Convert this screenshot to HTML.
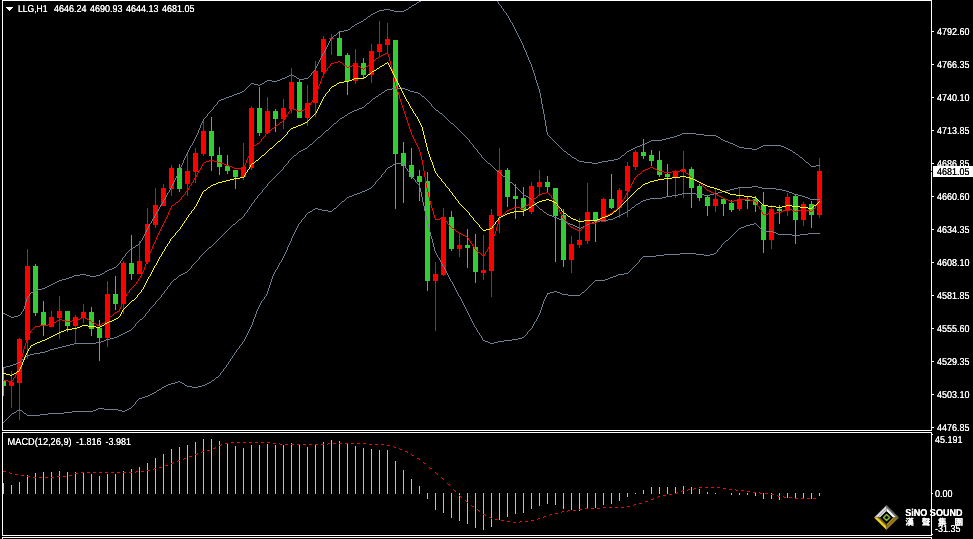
<!DOCTYPE html>
<html lang="en"><head><meta charset="utf-8"><title>LLG,H1</title>
<style>html,body{margin:0;padding:0;background:#000;overflow:hidden}svg{display:block}text{font-family:"Liberation Sans","Noto Sans CJK TC",sans-serif;font-size:10px;fill:#fff;text-rendering:geometricPrecision}.ln{fill:none;stroke-width:1;shape-rendering:crispEdges}</style></head><body>
<svg width="973" height="539" viewBox="0 0 973 539">
<rect width="973" height="539" fill="#000"/>
<defs><clipPath id="cm"><rect x="3" y="1" width="928" height="429"/></clipPath><clipPath id="cs"><rect x="3" y="433" width="928" height="102"/></clipPath></defs>
<g clip-path="url(#cm)" shape-rendering="crispEdges">
<rect x="3" y="368" width="1" height="28" fill="#32cd32"/><rect x="1" y="380" width="5" height="6" fill="#32cd32"/>
<rect x="11" y="371" width="1" height="37" fill="#ff0000"/><rect x="9" y="382" width="5" height="4" fill="#ff0000"/>
<rect x="19" y="338" width="1" height="82" fill="#ff0000"/><rect x="17" y="339" width="5" height="44" fill="#ff0000"/>
<rect x="27" y="249" width="1" height="110" fill="#ff0000"/><rect x="25" y="266" width="5" height="74" fill="#ff0000"/>
<rect x="35" y="264" width="1" height="52" fill="#32cd32"/><rect x="33" y="266" width="5" height="47" fill="#32cd32"/>
<rect x="43" y="301" width="1" height="35" fill="#32cd32"/><rect x="41" y="312" width="5" height="14" fill="#32cd32"/>
<rect x="51" y="311" width="1" height="16" fill="#ff0000"/><rect x="49" y="317" width="5" height="10" fill="#ff0000"/>
<rect x="59" y="296" width="1" height="43" fill="#ff0000"/><rect x="57" y="311" width="5" height="7" fill="#ff0000"/>
<rect x="67" y="311" width="1" height="21" fill="#32cd32"/><rect x="65" y="311" width="5" height="15" fill="#32cd32"/>
<rect x="75" y="315" width="1" height="28" fill="#ff0000"/><rect x="73" y="317" width="5" height="9" fill="#ff0000"/>
<rect x="83" y="304" width="1" height="19" fill="#ff0000"/><rect x="81" y="312" width="5" height="6" fill="#ff0000"/>
<rect x="91" y="307" width="1" height="29" fill="#32cd32"/><rect x="89" y="312" width="5" height="17" fill="#32cd32"/>
<rect x="99" y="320" width="1" height="41" fill="#32cd32"/><rect x="97" y="328" width="5" height="10" fill="#32cd32"/>
<rect x="107" y="281" width="1" height="66" fill="#ff0000"/><rect x="105" y="294" width="5" height="44" fill="#ff0000"/>
<rect x="115" y="276" width="1" height="34" fill="#32cd32"/><rect x="113" y="294" width="5" height="10" fill="#32cd32"/>
<rect x="123" y="261" width="1" height="53" fill="#ff0000"/><rect x="121" y="263" width="5" height="41" fill="#ff0000"/>
<rect x="131" y="235" width="1" height="45" fill="#32cd32"/><rect x="129" y="263" width="5" height="11" fill="#32cd32"/>
<rect x="139" y="241" width="1" height="33" fill="#ff0000"/><rect x="137" y="261" width="5" height="13" fill="#ff0000"/>
<rect x="147" y="208" width="1" height="56" fill="#ff0000"/><rect x="145" y="224" width="5" height="38" fill="#ff0000"/>
<rect x="155" y="188" width="1" height="40" fill="#ff0000"/><rect x="153" y="205" width="5" height="20" fill="#ff0000"/>
<rect x="163" y="184" width="1" height="22" fill="#ff0000"/><rect x="161" y="188" width="5" height="18" fill="#ff0000"/>
<rect x="171" y="165" width="1" height="31" fill="#ff0000"/><rect x="169" y="168" width="5" height="21" fill="#ff0000"/>
<rect x="179" y="164" width="1" height="28" fill="#32cd32"/><rect x="177" y="168" width="5" height="21" fill="#32cd32"/>
<rect x="187" y="152" width="1" height="44" fill="#ff0000"/><rect x="185" y="171" width="5" height="13" fill="#ff0000"/>
<rect x="195" y="148" width="1" height="35" fill="#ff0000"/><rect x="193" y="153" width="5" height="19" fill="#ff0000"/>
<rect x="203" y="119" width="1" height="37" fill="#ff0000"/><rect x="201" y="131" width="5" height="23" fill="#ff0000"/>
<rect x="211" y="117" width="1" height="54" fill="#32cd32"/><rect x="209" y="131" width="5" height="25" fill="#32cd32"/>
<rect x="219" y="147" width="1" height="28" fill="#32cd32"/><rect x="217" y="155" width="5" height="12" fill="#32cd32"/>
<rect x="227" y="155" width="1" height="19" fill="#32cd32"/><rect x="225" y="166" width="5" height="5" fill="#32cd32"/>
<rect x="235" y="170" width="1" height="19" fill="#32cd32"/><rect x="233" y="170" width="5" height="7" fill="#32cd32"/>
<rect x="243" y="143" width="1" height="37" fill="#ff0000"/><rect x="241" y="167" width="5" height="10" fill="#ff0000"/>
<rect x="251" y="106" width="1" height="64" fill="#ff0000"/><rect x="249" y="108" width="5" height="60" fill="#ff0000"/>
<rect x="259" y="87" width="1" height="49" fill="#32cd32"/><rect x="257" y="108" width="5" height="25" fill="#32cd32"/>
<rect x="267" y="97" width="1" height="37" fill="#ff0000"/><rect x="265" y="111" width="5" height="22" fill="#ff0000"/>
<rect x="275" y="109" width="1" height="23" fill="#32cd32"/><rect x="273" y="111" width="5" height="8" fill="#32cd32"/>
<rect x="283" y="99" width="1" height="30" fill="#ff0000"/><rect x="281" y="108" width="5" height="11" fill="#ff0000"/>
<rect x="291" y="68" width="1" height="45" fill="#ff0000"/><rect x="289" y="82" width="5" height="27" fill="#ff0000"/>
<rect x="299" y="80" width="1" height="38" fill="#32cd32"/><rect x="297" y="82" width="5" height="36" fill="#32cd32"/>
<rect x="307" y="85" width="1" height="41" fill="#ff0000"/><rect x="305" y="103" width="5" height="15" fill="#ff0000"/>
<rect x="315" y="61" width="1" height="56" fill="#ff0000"/><rect x="313" y="71" width="5" height="32" fill="#ff0000"/>
<rect x="323" y="36" width="1" height="39" fill="#ff0000"/><rect x="321" y="39" width="5" height="33" fill="#ff0000"/>
<rect x="331" y="34" width="1" height="21" fill="#ff0000"/><rect x="329" y="38" width="5" height="1" fill="#ff0000"/>
<rect x="339" y="31" width="1" height="25" fill="#32cd32"/><rect x="337" y="38" width="5" height="18" fill="#32cd32"/>
<rect x="347" y="53" width="1" height="42" fill="#32cd32"/><rect x="345" y="55" width="5" height="26" fill="#32cd32"/>
<rect x="355" y="49" width="1" height="35" fill="#ff0000"/><rect x="353" y="63" width="5" height="18" fill="#ff0000"/>
<rect x="363" y="58" width="1" height="21" fill="#32cd32"/><rect x="361" y="63" width="5" height="12" fill="#32cd32"/>
<rect x="371" y="44" width="1" height="39" fill="#ff0000"/><rect x="369" y="51" width="5" height="24" fill="#ff0000"/>
<rect x="379" y="21" width="1" height="35" fill="#ff0000"/><rect x="377" y="44" width="5" height="8" fill="#ff0000"/>
<rect x="387" y="23" width="1" height="29" fill="#ff0000"/><rect x="385" y="39" width="5" height="6" fill="#ff0000"/>
<rect x="395" y="40" width="1" height="169" fill="#32cd32"/><rect x="393" y="40" width="5" height="114" fill="#32cd32"/>
<rect x="403" y="142" width="1" height="61" fill="#32cd32"/><rect x="401" y="153" width="5" height="13" fill="#32cd32"/>
<rect x="411" y="148" width="1" height="31" fill="#32cd32"/><rect x="409" y="165" width="5" height="12" fill="#32cd32"/>
<rect x="419" y="170" width="1" height="31" fill="#32cd32"/><rect x="417" y="176" width="5" height="6" fill="#32cd32"/>
<rect x="427" y="172" width="1" height="119" fill="#32cd32"/><rect x="425" y="181" width="5" height="100" fill="#32cd32"/>
<rect x="435" y="262" width="1" height="69" fill="#ff0000"/><rect x="433" y="274" width="5" height="7" fill="#ff0000"/>
<rect x="443" y="208" width="1" height="68" fill="#ff0000"/><rect x="441" y="217" width="5" height="58" fill="#ff0000"/>
<rect x="451" y="211" width="1" height="40" fill="#32cd32"/><rect x="449" y="217" width="5" height="32" fill="#32cd32"/>
<rect x="459" y="233" width="1" height="24" fill="#ff0000"/><rect x="457" y="245" width="5" height="4" fill="#ff0000"/>
<rect x="467" y="229" width="1" height="39" fill="#32cd32"/><rect x="465" y="245" width="5" height="3" fill="#32cd32"/>
<rect x="475" y="234" width="1" height="49" fill="#32cd32"/><rect x="473" y="247" width="5" height="25" fill="#32cd32"/>
<rect x="483" y="235" width="1" height="45" fill="#ff0000"/><rect x="481" y="270" width="5" height="3" fill="#ff0000"/>
<rect x="491" y="209" width="1" height="88" fill="#ff0000"/><rect x="489" y="215" width="5" height="56" fill="#ff0000"/>
<rect x="499" y="148" width="1" height="85" fill="#ff0000"/><rect x="497" y="170" width="5" height="46" fill="#ff0000"/>
<rect x="507" y="168" width="1" height="39" fill="#32cd32"/><rect x="505" y="170" width="5" height="27" fill="#32cd32"/>
<rect x="515" y="184" width="1" height="35" fill="#32cd32"/><rect x="513" y="196" width="5" height="3" fill="#32cd32"/>
<rect x="523" y="187" width="1" height="29" fill="#32cd32"/><rect x="521" y="198" width="5" height="12" fill="#32cd32"/>
<rect x="531" y="182" width="1" height="32" fill="#ff0000"/><rect x="529" y="186" width="5" height="26" fill="#ff0000"/>
<rect x="539" y="170" width="1" height="26" fill="#ff0000"/><rect x="537" y="182" width="5" height="5" fill="#ff0000"/>
<rect x="547" y="176" width="1" height="16" fill="#32cd32"/><rect x="545" y="182" width="5" height="5" fill="#32cd32"/>
<rect x="555" y="188" width="1" height="74" fill="#32cd32"/><rect x="553" y="188" width="5" height="28" fill="#32cd32"/>
<rect x="563" y="209" width="1" height="58" fill="#32cd32"/><rect x="561" y="215" width="5" height="45" fill="#32cd32"/>
<rect x="571" y="236" width="1" height="37" fill="#ff0000"/><rect x="569" y="244" width="5" height="16" fill="#ff0000"/>
<rect x="579" y="218" width="1" height="30" fill="#ff0000"/><rect x="577" y="240" width="5" height="5" fill="#ff0000"/>
<rect x="587" y="183" width="1" height="61" fill="#ff0000"/><rect x="585" y="212" width="5" height="29" fill="#ff0000"/>
<rect x="595" y="212" width="1" height="30" fill="#32cd32"/><rect x="593" y="212" width="5" height="9" fill="#32cd32"/>
<rect x="603" y="198" width="1" height="24" fill="#ff0000"/><rect x="601" y="199" width="5" height="23" fill="#ff0000"/>
<rect x="611" y="174" width="1" height="35" fill="#32cd32"/><rect x="609" y="199" width="5" height="9" fill="#32cd32"/>
<rect x="619" y="188" width="1" height="30" fill="#ff0000"/><rect x="617" y="190" width="5" height="18" fill="#ff0000"/>
<rect x="627" y="162" width="1" height="55" fill="#ff0000"/><rect x="625" y="166" width="5" height="25" fill="#ff0000"/>
<rect x="635" y="150" width="1" height="20" fill="#ff0000"/><rect x="633" y="152" width="5" height="15" fill="#ff0000"/>
<rect x="643" y="139" width="1" height="20" fill="#32cd32"/><rect x="641" y="152" width="5" height="4" fill="#32cd32"/>
<rect x="651" y="150" width="1" height="16" fill="#32cd32"/><rect x="649" y="155" width="5" height="6" fill="#32cd32"/>
<rect x="659" y="151" width="1" height="26" fill="#32cd32"/><rect x="657" y="160" width="5" height="15" fill="#32cd32"/>
<rect x="667" y="164" width="1" height="33" fill="#32cd32"/><rect x="665" y="174" width="5" height="3" fill="#32cd32"/>
<rect x="675" y="170" width="1" height="28" fill="#ff0000"/><rect x="673" y="171" width="5" height="6" fill="#ff0000"/>
<rect x="683" y="151" width="1" height="47" fill="#ff0000"/><rect x="681" y="169" width="5" height="3" fill="#ff0000"/>
<rect x="691" y="167" width="1" height="41" fill="#32cd32"/><rect x="689" y="169" width="5" height="19" fill="#32cd32"/>
<rect x="699" y="184" width="1" height="17" fill="#32cd32"/><rect x="697" y="186" width="5" height="12" fill="#32cd32"/>
<rect x="707" y="196" width="1" height="20" fill="#32cd32"/><rect x="705" y="197" width="5" height="9" fill="#32cd32"/>
<rect x="715" y="189" width="1" height="23" fill="#ff0000"/><rect x="713" y="199" width="5" height="7" fill="#ff0000"/>
<rect x="723" y="198" width="1" height="18" fill="#32cd32"/><rect x="721" y="199" width="5" height="5" fill="#32cd32"/>
<rect x="731" y="200" width="1" height="12" fill="#32cd32"/><rect x="729" y="203" width="5" height="7" fill="#32cd32"/>
<rect x="739" y="187" width="1" height="24" fill="#ff0000"/><rect x="737" y="199" width="5" height="10" fill="#ff0000"/>
<rect x="747" y="196" width="1" height="13" fill="#32cd32"/><rect x="745" y="200" width="5" height="1" fill="#32cd32"/>
<rect x="755" y="196" width="1" height="16" fill="#32cd32"/><rect x="753" y="199" width="5" height="6" fill="#32cd32"/>
<rect x="763" y="192" width="1" height="61" fill="#32cd32"/><rect x="761" y="205" width="5" height="35" fill="#32cd32"/>
<rect x="771" y="205" width="1" height="44" fill="#ff0000"/><rect x="769" y="209" width="5" height="31" fill="#ff0000"/>
<rect x="779" y="205" width="1" height="19" fill="#32cd32"/><rect x="777" y="209" width="5" height="2" fill="#32cd32"/>
<rect x="787" y="193" width="1" height="23" fill="#ff0000"/><rect x="785" y="197" width="5" height="14" fill="#ff0000"/>
<rect x="795" y="194" width="1" height="50" fill="#32cd32"/><rect x="793" y="196" width="5" height="24" fill="#32cd32"/>
<rect x="803" y="202" width="1" height="24" fill="#ff0000"/><rect x="801" y="204" width="5" height="16" fill="#ff0000"/>
<rect x="811" y="201" width="1" height="27" fill="#32cd32"/><rect x="809" y="204" width="5" height="11" fill="#32cd32"/>
<rect x="819" y="158" width="1" height="60" fill="#ff0000"/><rect x="817" y="171" width="5" height="44" fill="#ff0000"/>
</g>
<g clip-path="url(#cm)">
<path d="M421 0h1v1h-1zM419 1h2v1h-2zM417 2h2v1h-2zM416 3h1v1h-1zM414 4h2v1h-2zM412 5h2v1h-2zM411 6h1v1h-1zM409 7h2v1h-2zM408 8h1v1h-1zM384 9h6v1h-6zM406 9h2v1h-2zM379 10h5v1h-5zM390 10h4v1h-4zM404 10h2v1h-2zM377 11h2v1h-2zM394 11h10v1h-10zM375 12h2v1h-2zM373 13h2v1h-2zM371 14h2v1h-2zM370 15h1v1h-1zM368 16h2v1h-2zM367 17h1v1h-1zM366 18h1v1h-1zM364 19h2v1h-2zM363 20h1v1h-1zM361 21h2v1h-2zM359 22h2v1h-2zM357 23h2v1h-2zM355 24h2v1h-2zM354 25h1v1h-1zM352 26h2v1h-2zM351 27h1v1h-1zM350 28h1v1h-1zM348 29h2v1h-2zM344 30h4v1h-4zM339 31h5v1h-5zM338 32h1v1h-1zM337 33h1v1h-1zM336 34h1v1h-1zM334 35h2v1h-2zM333 36h1v1h-1zM332 37h1v1h-1zM331 38h1v1h-1zM330 39h1v2h-1zM329 41h1v2h-1zM328 43h1v2h-1zM327 45h1v2h-1zM326 47h1v2h-1zM325 49h1v2h-1zM324 51h1v2h-1zM323 53h1v1h-1zM322 54h1v2h-1zM321 56h1v2h-1zM320 58h1v2h-1zM319 60h1v2h-1zM318 62h1v2h-1zM317 64h1v2h-1zM316 66h1v2h-1zM315 68h1v2h-1zM314 70h1v1h-1zM313 71h1v1h-1zM312 72h1v1h-1zM311 73h1v2h-1zM291 74h1v1h-1zM289 75h2v1h-2zM292 75h2v1h-2zM310 75h1v1h-1zM287 76h2v1h-2zM294 76h2v1h-2zM309 76h1v1h-1zM285 77h2v1h-2zM296 77h1v1h-1zM308 77h1v1h-1zM282 78h3v1h-3zM297 78h2v1h-2zM304 78h4v1h-4zM280 79h2v1h-2zM299 79h5v1h-5zM267 80h5v1h-5zM277 80h3v1h-3zM265 81h2v1h-2zM272 81h5v1h-5zM264 82h1v1h-1zM251 83h3v1h-3zM262 83h2v1h-2zM250 84h1v1h-1zM254 84h4v1h-4zM260 84h2v1h-2zM249 85h1v1h-1zM258 85h2v1h-2zM248 86h1v1h-1zM247 87h1v1h-1zM246 88h1v1h-1zM245 89h1v1h-1zM244 90h1v1h-1zM242 91h2v1h-2zM240 92h2v1h-2zM237 93h3v1h-3zM234 94h3v1h-3zM232 95h2v1h-2zM229 96h3v1h-3zM226 97h3v1h-3zM224 98h2v1h-2zM221 99h3v1h-3zM219 100h2v1h-2zM218 101h1v1h-1zM217 102h1v2h-1zM216 104h1v1h-1zM215 105h1v1h-1zM214 106h1v1h-1zM213 107h1v2h-1zM212 109h1v1h-1zM211 110h1v1h-1zM210 111h1v1h-1zM209 112h1v1h-1zM208 113h1v1h-1zM207 114h1v2h-1zM206 116h1v1h-1zM205 117h1v1h-1zM204 118h1v1h-1zM203 119h1v2h-1zM202 121h1v2h-1zM201 123h1v2h-1zM200 125h1v3h-1zM199 128h1v2h-1zM198 130h1v3h-1zM197 133h1v2h-1zM196 135h1v2h-1zM195 137h1v2h-1zM194 139h1v2h-1zM193 141h1v2h-1zM192 143h1v2h-1zM191 145h1v1h-1zM190 146h1v2h-1zM189 148h1v2h-1zM188 150h1v2h-1zM187 152h1v2h-1zM186 154h1v2h-1zM185 156h1v2h-1zM184 158h1v2h-1zM183 160h1v3h-1zM182 163h1v2h-1zM181 165h1v2h-1zM180 167h1v2h-1zM179 169h1v3h-1zM178 172h1v2h-1zM177 174h1v2h-1zM176 176h1v2h-1zM175 178h1v2h-1zM174 180h1v2h-1zM173 182h1v2h-1zM172 184h1v2h-1zM171 186h1v2h-1zM170 188h1v2h-1zM169 190h1v2h-1zM168 192h1v1h-1zM167 193h1v2h-1zM166 195h1v2h-1zM165 197h1v2h-1zM164 199h1v1h-1zM163 200h1v2h-1zM162 202h1v2h-1zM161 204h1v1h-1zM160 205h1v2h-1zM159 207h1v2h-1zM158 209h1v2h-1zM157 211h1v1h-1zM156 212h1v2h-1zM155 214h1v2h-1zM154 216h1v2h-1zM153 218h1v1h-1zM152 219h1v2h-1zM151 221h1v2h-1zM150 223h1v1h-1zM149 224h1v2h-1zM148 226h1v2h-1zM147 228h1v2h-1zM146 230h1v2h-1zM145 232h1v2h-1zM144 234h1v2h-1zM143 236h1v2h-1zM142 238h1v2h-1zM141 240h1v1h-1zM140 241h1v2h-1zM139 243h1v1h-1zM138 244h1v1h-1zM136 245h2v1h-2zM135 246h1v1h-1zM133 247h2v1h-2zM131 248h2v1h-2zM130 249h1v1h-1zM129 250h1v1h-1zM128 251h1v1h-1zM127 252h1v1h-1zM126 253h1v1h-1zM125 254h1v2h-1zM124 256h1v1h-1zM123 257h1v1h-1zM122 258h1v2h-1zM121 260h1v1h-1zM120 261h1v2h-1zM119 263h1v1h-1zM118 264h1v1h-1zM117 265h1v1h-1zM116 266h1v1h-1zM114 267h2v1h-2zM112 268h2v1h-2zM109 269h3v1h-3zM107 270h2v1h-2zM105 271h2v1h-2zM104 272h1v1h-1zM102 273h2v1h-2zM80 274h6v1h-6zM100 274h2v1h-2zM74 275h6v1h-6zM86 275h4v1h-4zM96 275h4v1h-4zM72 276h2v1h-2zM90 276h6v1h-6zM69 277h3v1h-3zM66 278h3v1h-3zM62 279h4v1h-4zM59 280h3v1h-3zM57 281h2v1h-2zM55 282h2v1h-2zM53 283h2v1h-2zM51 284h2v1h-2zM49 285h2v1h-2zM47 286h2v1h-2zM45 287h2v1h-2zM42 288h3v1h-3zM38 289h4v1h-4zM35 290h3v1h-3zM33 291h2v1h-2zM31 292h2v1h-2zM30 293h1v1h-1zM29 294h1v2h-1zM28 296h1v1h-1zM27 297h1v2h-1zM26 299h1v3h-1zM25 302h1v4h-1zM24 306h1v3h-1zM23 309h1v2h-1zM22 311h1v1h-1zM21 312h1v2h-1zM3 313h2v1h-2zM5 314h2v1h-2zM20 314h1v1h-1zM7 315h2v1h-2zM18 315h2v1h-2zM9 316h2v1h-2zM14 316h4v1h-4zM11 317h3v1h-3z" fill="#708090" shape-rendering="crispEdges"/>
<path d="M496 0h1v1h-1zM497 1h1v1h-1zM498 2h1v2h-1zM499 4h1v1h-1zM500 5h1v1h-1zM501 6h1v2h-1zM502 8h1v1h-1zM503 9h1v2h-1zM504 11h1v1h-1zM505 12h1v1h-1zM506 13h1v2h-1zM507 15h1v1h-1zM508 16h1v2h-1zM509 18h1v2h-1zM510 20h1v2h-1zM511 22h1v1h-1zM512 23h1v2h-1zM513 25h1v2h-1zM514 27h1v2h-1zM515 29h1v2h-1zM516 31h1v2h-1zM517 33h1v2h-1zM518 35h1v2h-1zM519 37h1v2h-1zM520 39h1v2h-1zM521 41h1v2h-1zM522 43h1v2h-1zM523 45h1v3h-1zM524 48h1v2h-1zM525 50h1v2h-1zM526 52h1v3h-1zM527 55h1v2h-1zM528 57h1v3h-1zM529 60h1v2h-1zM530 62h1v2h-1zM531 64h1v3h-1zM532 67h1v3h-1zM533 70h1v3h-1zM534 73h1v3h-1zM535 76h1v4h-1zM536 80h1v3h-1zM537 83h1v3h-1zM538 86h1v3h-1zM539 89h1v4h-1zM540 93h1v5h-1zM541 98h1v6h-1zM542 104h1v5h-1zM543 109h1v5h-1zM544 114h1v6h-1zM545 120h1v6h-1zM546 126h1v6h-1zM547 132h1v3h-1zM682 133h14v1h-14zM680 134h2v1h-2zM696 134h8v1h-8zM548 135h1v1h-1zM677 135h3v1h-3zM704 135h12v1h-12zM549 136h1v1h-1zM674 136h3v1h-3zM716 136h2v1h-2zM550 137h1v1h-1zM670 137h4v1h-4zM718 137h2v1h-2zM551 138h1v1h-1zM666 138h4v1h-4zM720 138h1v1h-1zM552 139h1v1h-1zM662 139h4v1h-4zM721 139h2v1h-2zM553 140h1v1h-1zM651 140h11v1h-11zM723 140h2v1h-2zM554 141h1v1h-1zM649 141h2v1h-2zM725 141h3v1h-3zM555 142h1v1h-1zM647 142h2v1h-2zM728 142h2v1h-2zM556 143h1v1h-1zM645 143h2v1h-2zM730 143h3v1h-3zM557 144h1v1h-1zM642 144h3v1h-3zM733 144h2v1h-2zM558 145h1v1h-1zM640 145h2v1h-2zM735 145h2v1h-2zM763 145h18v1h-18zM559 146h1v1h-1zM637 146h3v1h-3zM737 146h2v1h-2zM761 146h2v1h-2zM781 146h3v1h-3zM560 147h1v1h-1zM635 147h2v1h-2zM739 147h5v1h-5zM759 147h2v1h-2zM784 147h2v1h-2zM561 148h1v1h-1zM633 148h2v1h-2zM744 148h8v1h-8zM757 148h2v1h-2zM786 148h2v1h-2zM562 149h1v1h-1zM631 149h2v1h-2zM752 149h5v1h-5zM788 149h2v1h-2zM563 150h1v1h-1zM629 150h2v1h-2zM790 150h2v1h-2zM564 151h2v1h-2zM627 151h2v1h-2zM792 151h1v1h-1zM566 152h1v1h-1zM626 152h1v1h-1zM793 152h2v1h-2zM567 153h1v1h-1zM625 153h1v1h-1zM795 153h1v1h-1zM568 154h2v1h-2zM624 154h1v1h-1zM796 154h2v1h-2zM570 155h1v1h-1zM622 155h2v1h-2zM798 155h1v1h-1zM571 156h1v1h-1zM621 156h1v1h-1zM799 156h1v1h-1zM572 157h2v1h-2zM620 157h1v1h-1zM800 157h2v1h-2zM574 158h2v1h-2zM618 158h2v1h-2zM802 158h1v1h-1zM576 159h1v1h-1zM614 159h4v1h-4zM803 159h1v1h-1zM577 160h2v1h-2zM608 160h6v1h-6zM804 160h1v1h-1zM579 161h5v1h-5zM602 161h6v1h-6zM805 161h1v1h-1zM584 162h8v1h-8zM598 162h4v1h-4zM806 162h2v1h-2zM592 163h6v1h-6zM808 163h1v1h-1zM809 164h1v1h-1zM810 165h1v1h-1zM816 165h4v1h-4zM811 166h5v1h-5z" fill="#708090" shape-rendering="crispEdges"/>
<path d="M392 88h13v1h-13zM387 89h5v1h-5zM405 89h3v1h-3zM385 90h2v1h-2zM408 90h2v1h-2zM384 91h1v1h-1zM410 91h4v1h-4zM382 92h2v1h-2zM414 92h4v1h-4zM381 93h1v1h-1zM418 93h2v1h-2zM379 94h2v1h-2zM420 94h1v1h-1zM378 95h1v1h-1zM421 95h1v1h-1zM376 96h2v1h-2zM422 96h2v1h-2zM375 97h1v1h-1zM424 97h1v1h-1zM373 98h2v1h-2zM425 98h1v1h-1zM372 99h1v1h-1zM426 99h1v1h-1zM371 100h1v1h-1zM427 100h1v1h-1zM370 101h1v1h-1zM428 101h1v1h-1zM369 102h1v1h-1zM429 102h1v1h-1zM367 103h2v1h-2zM430 103h1v1h-1zM366 104h1v1h-1zM431 104h1v2h-1zM365 105h1v1h-1zM364 106h1v1h-1zM432 106h1v1h-1zM362 107h2v1h-2zM433 107h1v1h-1zM359 108h3v1h-3zM434 108h1v1h-1zM357 109h2v1h-2zM435 109h1v1h-1zM354 110h3v1h-3zM436 110h2v1h-2zM352 111h2v1h-2zM438 111h1v1h-1zM350 112h2v1h-2zM439 112h1v1h-1zM348 113h2v1h-2zM440 113h2v1h-2zM347 114h1v1h-1zM442 114h1v1h-1zM345 115h2v1h-2zM443 115h1v1h-1zM344 116h1v1h-1zM444 116h1v1h-1zM342 117h2v1h-2zM445 117h1v1h-1zM340 118h2v1h-2zM446 118h1v1h-1zM339 119h1v1h-1zM447 119h1v1h-1zM338 120h1v1h-1zM448 120h1v1h-1zM337 121h1v1h-1zM449 121h1v1h-1zM336 122h1v1h-1zM450 122h1v1h-1zM334 123h2v1h-2zM451 123h2v1h-2zM333 124h1v1h-1zM453 124h1v1h-1zM332 125h1v1h-1zM454 125h1v1h-1zM331 126h1v1h-1zM455 126h1v1h-1zM330 127h1v1h-1zM456 127h1v1h-1zM329 128h1v1h-1zM457 128h1v1h-1zM328 129h1v1h-1zM458 129h1v1h-1zM326 130h2v1h-2zM459 130h1v1h-1zM325 131h1v1h-1zM460 131h1v1h-1zM324 132h1v1h-1zM461 132h1v1h-1zM323 133h1v1h-1zM462 133h1v1h-1zM322 134h1v1h-1zM463 134h1v1h-1zM321 135h1v1h-1zM464 135h1v1h-1zM320 136h1v1h-1zM465 136h1v1h-1zM318 137h2v1h-2zM466 137h1v1h-1zM317 138h1v1h-1zM467 138h1v1h-1zM316 139h1v1h-1zM468 139h1v1h-1zM315 140h1v1h-1zM469 140h1v2h-1zM314 141h1v1h-1zM313 142h1v1h-1zM470 142h1v1h-1zM312 143h1v1h-1zM471 143h1v1h-1zM310 144h2v1h-2zM472 144h1v1h-1zM309 145h1v1h-1zM473 145h1v2h-1zM308 146h1v1h-1zM307 147h1v1h-1zM474 147h1v1h-1zM305 148h2v1h-2zM475 148h1v1h-1zM303 149h2v1h-2zM476 149h1v1h-1zM301 150h2v1h-2zM477 150h1v2h-1zM299 151h2v1h-2zM298 152h1v1h-1zM478 152h1v1h-1zM297 153h1v1h-1zM479 153h1v1h-1zM296 154h1v1h-1zM480 154h1v1h-1zM294 155h2v1h-2zM481 155h1v2h-1zM293 156h1v1h-1zM292 157h1v1h-1zM482 157h1v1h-1zM291 158h1v1h-1zM483 158h1v1h-1zM290 159h1v1h-1zM484 159h1v1h-1zM289 160h1v1h-1zM485 160h1v1h-1zM486 161h1v1h-1zM288 161h1v2h-1zM487 162h1v1h-1zM287 163h1v1h-1zM488 163h2v1h-2zM286 164h1v1h-1zM490 164h1v1h-1zM285 165h1v1h-1zM491 165h1v1h-1zM284 166h1v1h-1zM492 166h1v1h-1zM493 167h1v1h-1zM283 167h1v2h-1zM494 168h1v1h-1zM282 169h1v1h-1zM495 169h1v1h-1zM281 170h1v1h-1zM496 170h1v1h-1zM280 171h1v1h-1zM497 171h2v1h-2zM279 172h1v1h-1zM499 172h1v1h-1zM278 173h1v1h-1zM500 173h1v1h-1zM277 174h1v1h-1zM501 174h1v1h-1zM276 175h1v1h-1zM502 175h1v1h-1zM275 176h1v1h-1zM503 176h2v1h-2zM274 177h1v1h-1zM505 177h1v1h-1zM273 178h1v1h-1zM506 178h1v1h-1zM272 179h1v1h-1zM507 179h1v1h-1zM271 180h1v1h-1zM508 180h1v1h-1zM270 181h1v1h-1zM509 181h1v1h-1zM269 182h1v1h-1zM510 182h2v1h-2zM268 183h1v1h-1zM512 183h1v1h-1zM513 184h1v1h-1zM267 184h1v2h-1zM514 185h1v1h-1zM266 186h1v1h-1zM515 186h1v1h-1zM752 186h6v1h-6zM265 187h1v1h-1zM516 187h1v1h-1zM738 187h14v1h-14zM758 187h4v1h-4zM264 188h1v1h-1zM517 188h1v1h-1zM734 188h4v1h-4zM762 188h14v1h-14zM263 189h1v1h-1zM518 189h1v1h-1zM730 189h4v1h-4zM776 189h6v1h-6zM519 190h1v1h-1zM726 190h4v1h-4zM782 190h4v1h-4zM262 190h1v2h-1zM520 191h1v1h-1zM722 191h4v1h-4zM786 191h3v1h-3zM261 192h1v1h-1zM521 192h1v1h-1zM718 192h4v1h-4zM789 192h3v1h-3zM260 193h1v1h-1zM522 193h1v1h-1zM682 193h14v1h-14zM714 193h4v1h-4zM792 193h2v1h-2zM259 194h1v1h-1zM523 194h1v1h-1zM678 194h4v1h-4zM696 194h8v1h-8zM710 194h4v1h-4zM794 194h4v1h-4zM258 195h1v1h-1zM524 195h2v1h-2zM672 195h6v1h-6zM704 195h6v1h-6zM798 195h4v1h-4zM526 196h2v1h-2zM666 196h6v1h-6zM802 196h3v1h-3zM257 196h1v2h-1zM528 197h1v1h-1zM662 197h4v1h-4zM805 197h3v1h-3zM256 198h1v1h-1zM529 198h2v1h-2zM650 198h12v1h-12zM808 198h2v1h-2zM255 199h1v1h-1zM531 199h1v1h-1zM646 199h4v1h-4zM810 199h10v1h-10zM532 200h1v1h-1zM643 200h3v1h-3zM254 200h1v2h-1zM533 201h1v1h-1zM641 201h2v1h-2zM253 202h1v1h-1zM534 202h1v1h-1zM640 202h1v1h-1zM252 203h1v1h-1zM638 203h2v1h-2zM535 203h1v2h-1zM636 204h2v1h-2zM251 204h1v2h-1zM536 205h1v1h-1zM635 205h1v1h-1zM250 206h1v1h-1zM537 206h1v1h-1zM634 206h1v1h-1zM538 207h1v1h-1zM632 207h2v1h-2zM249 207h1v2h-1zM539 208h1v1h-1zM631 208h1v1h-1zM248 209h1v1h-1zM540 209h2v1h-2zM630 209h1v1h-1zM542 210h1v1h-1zM628 210h2v1h-2zM247 210h1v2h-1zM543 211h1v1h-1zM627 211h1v1h-1zM246 212h1v1h-1zM544 212h2v1h-2zM625 212h2v1h-2zM245 213h1v1h-1zM546 213h1v1h-1zM623 213h2v1h-2zM547 214h2v1h-2zM621 214h2v1h-2zM244 214h1v2h-1zM549 215h3v1h-3zM619 215h2v1h-2zM243 216h1v1h-1zM552 216h2v1h-2zM617 216h2v1h-2zM242 217h1v1h-1zM554 217h3v1h-3zM615 217h2v1h-2zM241 218h1v1h-1zM557 218h2v1h-2zM613 218h2v1h-2zM239 219h2v1h-2zM559 219h2v1h-2zM608 219h5v1h-5zM238 220h1v1h-1zM561 220h2v1h-2zM600 220h8v1h-8zM237 221h1v1h-1zM563 221h2v1h-2zM594 221h6v1h-6zM236 222h1v1h-1zM565 222h3v1h-3zM592 222h2v1h-2zM235 223h1v1h-1zM568 223h2v1h-2zM589 223h3v1h-3zM233 224h2v1h-2zM570 224h3v1h-3zM587 224h2v1h-2zM232 225h1v1h-1zM573 225h2v1h-2zM585 225h2v1h-2zM231 226h1v1h-1zM575 226h2v1h-2zM583 226h2v1h-2zM230 227h1v1h-1zM577 227h2v1h-2zM581 227h2v1h-2zM229 228h1v1h-1zM579 228h2v1h-2zM228 229h1v1h-1zM227 230h1v1h-1zM226 231h1v1h-1zM225 232h1v1h-1zM224 233h1v1h-1zM223 234h1v1h-1zM222 235h1v1h-1zM221 236h1v1h-1zM220 237h1v1h-1zM219 238h1v1h-1zM218 239h1v1h-1zM217 240h1v1h-1zM216 241h1v1h-1zM215 242h1v1h-1zM214 243h1v1h-1zM213 244h1v1h-1zM212 245h1v1h-1zM211 246h1v1h-1zM209 247h2v1h-2zM208 248h1v1h-1zM207 249h1v1h-1zM206 250h1v1h-1zM205 251h1v1h-1zM204 252h1v1h-1zM203 253h1v1h-1zM202 254h1v1h-1zM201 255h1v1h-1zM200 256h1v1h-1zM199 257h1v2h-1zM198 259h1v1h-1zM197 260h1v1h-1zM196 261h1v1h-1zM195 262h1v1h-1zM194 263h1v1h-1zM193 264h1v1h-1zM192 265h1v1h-1zM191 266h1v2h-1zM190 268h1v1h-1zM189 269h1v1h-1zM188 270h1v1h-1zM187 271h1v1h-1zM185 272h2v1h-2zM183 273h2v1h-2zM181 274h2v1h-2zM179 275h2v1h-2zM178 276h1v1h-1zM177 277h1v1h-1zM176 278h1v1h-1zM174 279h2v1h-2zM173 280h1v1h-1zM172 281h1v1h-1zM171 282h1v1h-1zM170 283h1v2h-1zM169 285h1v1h-1zM168 286h1v1h-1zM167 287h1v2h-1zM166 289h1v1h-1zM165 290h1v1h-1zM164 291h1v2h-1zM163 293h1v1h-1zM162 294h1v1h-1zM161 295h1v2h-1zM160 297h1v1h-1zM159 298h1v1h-1zM158 299h1v1h-1zM157 300h1v1h-1zM156 301h1v1h-1zM155 302h1v2h-1zM154 304h1v1h-1zM153 305h1v1h-1zM152 306h1v1h-1zM151 307h1v1h-1zM150 308h1v1h-1zM149 309h1v2h-1zM148 311h1v1h-1zM147 312h1v1h-1zM146 313h1v1h-1zM145 314h1v2h-1zM144 316h1v1h-1zM143 317h1v1h-1zM142 318h1v1h-1zM140 319h2v1h-2zM139 320h1v1h-1zM138 321h1v1h-1zM137 322h1v1h-1zM136 323h1v1h-1zM135 324h1v2h-1zM134 326h1v1h-1zM133 327h1v1h-1zM132 328h1v1h-1zM131 329h1v1h-1zM129 330h2v1h-2zM127 331h2v1h-2zM125 332h2v1h-2zM123 333h2v1h-2zM121 334h2v1h-2zM119 335h2v1h-2zM117 336h2v1h-2zM114 337h3v1h-3zM110 338h4v1h-4zM106 339h4v1h-4zM104 340h2v1h-2zM101 341h3v1h-3zM96 342h5v1h-5zM74 343h22v1h-22zM70 344h4v1h-4zM66 345h4v1h-4zM62 346h4v1h-4zM58 347h4v1h-4zM54 348h4v1h-4zM50 349h4v1h-4zM48 350h2v1h-2zM45 351h3v1h-3zM40 352h5v1h-5zM34 353h6v1h-6zM30 354h4v1h-4zM27 355h3v1h-3zM26 356h1v1h-1zM25 357h1v1h-1zM24 358h1v1h-1zM22 359h2v1h-2zM21 360h1v1h-1zM20 361h1v1h-1zM18 362h2v1h-2zM16 363h2v1h-2zM13 364h3v1h-3zM10 365h3v1h-3zM6 366h4v1h-4zM3 367h3v1h-3z" fill="#708090" shape-rendering="crispEdges"/>
<path d="M395 163h9v1h-9zM393 164h2v1h-2zM404 164h1v2h-1zM392 165h1v1h-1zM390 166h2v1h-2zM405 166h1v2h-1zM388 167h2v1h-2zM387 168h1v1h-1zM406 168h1v1h-1zM386 169h1v1h-1zM407 169h1v2h-1zM385 170h1v2h-1zM408 171h1v1h-1zM384 172h1v1h-1zM409 172h1v2h-1zM383 173h1v1h-1zM382 174h1v1h-1zM410 174h1v2h-1zM381 175h1v2h-1zM411 176h1v1h-1zM380 177h1v1h-1zM412 177h1v1h-1zM379 178h1v1h-1zM413 178h1v1h-1zM378 179h1v1h-1zM414 179h1v1h-1zM377 180h1v1h-1zM415 180h1v2h-1zM376 181h1v1h-1zM416 182h1v1h-1zM375 182h1v2h-1zM417 183h1v1h-1zM374 184h1v1h-1zM418 184h1v1h-1zM373 185h1v1h-1zM419 185h1v3h-1zM372 186h1v1h-1zM371 187h1v1h-1zM369 188h2v1h-2zM420 188h1v4h-1zM367 189h2v1h-2zM365 190h2v1h-2zM362 191h3v1h-3zM360 192h2v1h-2zM421 192h1v5h-1zM357 193h3v1h-3zM354 194h3v1h-3zM352 195h2v1h-2zM349 196h3v1h-3zM347 197h2v1h-2zM422 197h1v5h-1zM346 198h1v1h-1zM345 199h1v1h-1zM344 200h1v1h-1zM342 201h2v1h-2zM341 202h1v1h-1zM423 202h1v4h-1zM340 203h1v1h-1zM339 204h1v1h-1zM338 205h1v1h-1zM337 206h1v1h-1zM424 206h1v5h-1zM336 207h1v1h-1zM315 208h3v1h-3zM334 208h2v1h-2zM313 209h2v1h-2zM318 209h4v1h-4zM333 209h1v1h-1zM312 210h1v1h-1zM322 210h6v1h-6zM332 210h1v1h-1zM310 211h2v1h-2zM328 211h4v1h-4zM425 211h1v5h-1zM308 212h2v1h-2zM307 213h1v1h-1zM306 214h1v1h-1zM305 215h1v2h-1zM426 216h1v4h-1zM304 217h1v1h-1zM303 218h1v1h-1zM302 219h1v1h-1zM301 220h1v2h-1zM427 220h1v4h-1zM300 222h1v1h-1zM299 223h1v1h-1zM754 223h2v1h-2zM750 224h4v1h-4zM756 224h1v1h-1zM298 224h1v2h-1zM428 224h1v4h-1zM746 225h4v1h-4zM757 225h1v1h-1zM744 226h2v1h-2zM758 226h1v1h-1zM297 226h1v2h-1zM741 227h3v1h-3zM759 227h1v1h-1zM739 228h2v1h-2zM760 228h1v1h-1zM296 228h1v2h-1zM429 228h1v4h-1zM738 229h1v1h-1zM761 229h1v1h-1zM737 230h1v1h-1zM762 230h1v1h-1zM295 230h1v2h-1zM736 231h1v1h-1zM763 231h10v1h-10zM735 232h1v1h-1zM773 232h3v1h-3zM294 232h1v2h-1zM430 232h1v4h-1zM734 233h1v1h-1zM776 233h2v1h-2zM808 233h12v1h-12zM733 234h1v1h-1zM778 234h14v1h-14zM800 234h8v1h-8zM293 234h1v2h-1zM732 235h1v1h-1zM792 235h8v1h-8zM731 236h1v1h-1zM292 236h1v2h-1zM431 236h1v3h-1zM730 237h1v1h-1zM729 238h1v1h-1zM291 238h1v3h-1zM728 239h1v1h-1zM432 239h1v4h-1zM726 240h2v1h-2zM725 241h1v1h-1zM290 241h1v2h-1zM724 242h1v1h-1zM723 243h1v1h-1zM289 243h1v2h-1zM433 243h1v4h-1zM722 244h1v1h-1zM288 245h1v2h-1zM721 245h1v2h-1zM720 247h1v1h-1zM287 247h1v3h-1zM434 247h1v4h-1zM719 248h1v1h-1zM718 249h1v1h-1zM286 250h1v2h-1zM717 250h1v2h-1zM435 251h1v2h-1zM716 252h1v1h-1zM285 252h1v2h-1zM680 253h16v1h-16zM714 253h2v1h-2zM436 253h1v2h-1zM664 254h16v1h-16zM696 254h8v1h-8zM710 254h4v1h-4zM284 254h1v2h-1zM656 255h8v1h-8zM704 255h6v1h-6zM437 255h1v2h-1zM643 256h13v1h-13zM283 256h1v2h-1zM438 257h1v1h-1zM642 257h1v1h-1zM641 258h1v1h-1zM282 258h1v2h-1zM439 258h1v2h-1zM640 259h1v1h-1zM281 260h1v2h-1zM440 260h1v2h-1zM639 260h1v2h-1zM280 262h1v1h-1zM638 262h1v1h-1zM441 262h1v2h-1zM637 263h1v1h-1zM279 263h1v2h-1zM636 264h1v1h-1zM442 264h1v2h-1zM635 265h1v1h-1zM278 265h1v2h-1zM443 266h1v1h-1zM634 266h1v1h-1zM633 267h1v1h-1zM277 267h1v2h-1zM444 267h1v2h-1zM632 268h1v1h-1zM276 269h1v1h-1zM631 269h1v1h-1zM445 269h1v2h-1zM630 270h1v1h-1zM275 270h1v2h-1zM629 271h1v1h-1zM446 271h1v2h-1zM628 272h1v1h-1zM274 272h1v2h-1zM624 273h4v1h-4zM447 273h1v2h-1zM618 274h6v1h-6zM273 274h1v2h-1zM616 275h2v1h-2zM448 275h1v2h-1zM613 276h3v1h-3zM272 276h1v3h-1zM610 277h3v1h-3zM449 277h1v2h-1zM608 278h2v1h-2zM605 279h3v1h-3zM450 279h1v2h-1zM271 279h1v3h-1zM595 280h10v1h-10zM451 281h1v1h-1zM594 281h1v1h-1zM593 282h1v1h-1zM452 282h1v2h-1zM270 282h1v3h-1zM592 283h1v1h-1zM591 284h1v1h-1zM453 284h1v2h-1zM590 285h1v1h-1zM269 285h1v3h-1zM589 286h1v1h-1zM454 286h1v2h-1zM588 287h1v1h-1zM587 288h1v1h-1zM455 288h1v2h-1zM268 288h1v3h-1zM586 289h1v1h-1zM585 290h1v1h-1zM456 290h1v2h-1zM554 291h3v1h-3zM584 291h1v1h-1zM267 291h1v3h-1zM550 292h4v1h-4zM557 292h3v1h-3zM582 292h2v1h-2zM457 292h1v2h-1zM548 293h2v1h-2zM560 293h2v1h-2zM581 293h1v1h-1zM547 293h1v2h-1zM562 294h6v1h-6zM580 294h1v1h-1zM266 294h1v2h-1zM458 294h1v2h-1zM568 295h12v1h-12zM546 295h1v2h-1zM265 296h1v1h-1zM459 296h1v1h-1zM264 297h1v2h-1zM460 297h1v2h-1zM545 297h1v2h-1zM263 299h1v1h-1zM461 299h1v2h-1zM544 299h1v2h-1zM262 300h1v1h-1zM261 301h1v2h-1zM462 301h1v2h-1zM543 301h1v3h-1zM260 303h1v2h-1zM463 303h1v2h-1zM542 304h1v3h-1zM259 305h1v2h-1zM464 305h1v2h-1zM258 307h1v2h-1zM465 307h1v2h-1zM541 307h1v3h-1zM257 309h1v2h-1zM466 309h1v2h-1zM540 310h1v3h-1zM467 311h1v2h-1zM256 311h1v3h-1zM468 313h1v2h-1zM539 313h1v2h-1zM255 314h1v3h-1zM469 315h1v2h-1zM538 315h1v2h-1zM254 317h1v2h-1zM470 317h1v2h-1zM537 317h1v2h-1zM471 319h1v2h-1zM536 319h1v2h-1zM253 319h1v3h-1zM535 321h1v1h-1zM472 321h1v2h-1zM534 322h1v2h-1zM252 322h1v3h-1zM473 323h1v2h-1zM533 324h1v2h-1zM251 325h1v2h-1zM474 325h1v2h-1zM532 326h1v2h-1zM475 327h1v1h-1zM250 327h1v2h-1zM531 328h1v1h-1zM476 328h1v2h-1zM530 329h1v1h-1zM249 329h1v2h-1zM529 330h1v1h-1zM477 330h1v2h-1zM528 331h1v1h-1zM248 331h1v2h-1zM478 332h1v1h-1zM527 332h1v2h-1zM247 333h1v2h-1zM479 333h1v2h-1zM526 334h1v1h-1zM480 335h1v1h-1zM525 335h1v1h-1zM246 335h1v2h-1zM524 336h1v1h-1zM481 336h1v2h-1zM522 337h2v1h-2zM245 337h1v2h-1zM518 338h4v1h-4zM482 338h1v2h-1zM512 339h6v1h-6zM244 339h1v2h-1zM483 340h2v1h-2zM504 340h8v1h-8zM243 341h1v1h-1zM485 341h3v1h-3zM498 341h6v1h-6zM488 342h2v1h-2zM494 342h4v1h-4zM242 342h1v2h-1zM490 343h4v1h-4zM241 344h1v1h-1zM240 345h1v1h-1zM239 346h1v2h-1zM238 348h1v1h-1zM237 349h1v1h-1zM236 350h1v2h-1zM235 352h1v1h-1zM234 353h1v2h-1zM233 355h1v1h-1zM232 356h1v2h-1zM231 358h1v1h-1zM230 359h1v2h-1zM229 361h1v1h-1zM228 362h1v2h-1zM227 364h1v1h-1zM226 365h1v2h-1zM225 367h1v1h-1zM224 368h1v1h-1zM223 369h1v2h-1zM222 371h1v1h-1zM221 372h1v1h-1zM220 373h1v2h-1zM219 375h1v1h-1zM218 376h1v1h-1zM216 377h2v1h-2zM215 378h1v1h-1zM214 379h1v1h-1zM212 380h2v1h-2zM178 381h2v1h-2zM211 381h1v1h-1zM175 382h3v1h-3zM180 382h2v1h-2zM209 382h2v1h-2zM171 383h4v1h-4zM182 383h2v1h-2zM207 383h2v1h-2zM168 384h3v1h-3zM184 384h1v1h-1zM205 384h2v1h-2zM166 385h2v1h-2zM185 385h2v1h-2zM202 385h3v1h-3zM164 386h2v1h-2zM187 386h5v1h-5zM198 386h4v1h-4zM162 387h2v1h-2zM192 387h6v1h-6zM161 388h1v1h-1zM159 389h2v1h-2zM157 390h2v1h-2zM156 391h1v1h-1zM154 392h2v1h-2zM152 393h2v1h-2zM150 394h2v1h-2zM148 395h2v1h-2zM145 396h3v1h-3zM142 397h3v1h-3zM139 398h3v1h-3zM138 399h1v1h-1zM137 400h1v1h-1zM136 401h1v1h-1zM135 402h1v2h-1zM134 404h1v1h-1zM133 405h1v1h-1zM132 406h1v1h-1zM131 407h1v1h-1zM98 408h6v1h-6zM129 408h2v1h-2zM19 409h1v1h-1zM96 409h2v1h-2zM104 409h14v1h-14zM127 409h2v1h-2zM17 410h2v1h-2zM20 410h2v1h-2zM93 410h3v1h-3zM118 410h4v1h-4zM125 410h2v1h-2zM16 411h1v1h-1zM22 411h1v1h-1zM72 411h21v1h-21zM122 411h3v1h-3zM14 412h2v1h-2zM23 412h1v1h-1zM64 412h8v1h-8zM12 413h2v1h-2zM24 413h2v1h-2zM48 413h16v1h-16zM11 414h1v1h-1zM26 414h1v1h-1zM40 414h8v1h-8zM10 415h1v1h-1zM27 415h13v1h-13zM9 416h1v1h-1zM8 417h1v1h-1zM7 418h1v1h-1zM6 419h1v1h-1zM5 420h1v1h-1zM4 421h1v1h-1zM3 422h1v1h-1z" fill="#708090" shape-rendering="crispEdges"/>
<path d="M387 52h1v2h-1zM385 53h2v1h-2zM383 54h2v1h-2zM388 54h1v3h-1zM381 55h2v1h-2zM379 56h2v1h-2zM378 57h1v1h-1zM389 57h1v4h-1zM376 58h2v1h-2zM375 59h1v1h-1zM374 60h1v1h-1zM338 61h2v1h-2zM372 61h2v1h-2zM390 61h1v4h-1zM334 62h4v1h-4zM340 62h2v1h-2zM371 62h1v1h-1zM331 63h3v1h-3zM342 63h1v1h-1zM370 63h1v1h-1zM343 64h1v1h-1zM354 64h2v1h-2zM369 64h1v1h-1zM330 64h1v2h-1zM344 65h2v1h-2zM352 65h2v1h-2zM356 65h2v1h-2zM368 65h1v1h-1zM391 65h1v4h-1zM329 66h1v1h-1zM346 66h1v1h-1zM349 66h3v1h-3zM358 66h2v1h-2zM366 66h2v1h-2zM328 67h1v1h-1zM347 67h2v1h-2zM360 67h1v1h-1zM365 67h1v1h-1zM361 68h2v1h-2zM364 68h1v1h-1zM327 68h1v2h-1zM363 69h1v1h-1zM392 69h1v5h-1zM326 70h1v1h-1zM325 71h1v1h-1zM324 72h1v2h-1zM323 74h1v2h-1zM393 74h1v4h-1zM322 76h1v2h-1zM321 78h1v3h-1zM394 78h1v4h-1zM320 81h1v3h-1zM395 82h1v4h-1zM319 84h1v2h-1zM318 86h1v3h-1zM396 86h1v3h-1zM317 89h1v2h-1zM397 89h1v3h-1zM316 91h1v3h-1zM398 92h1v3h-1zM315 94h1v2h-1zM399 95h1v4h-1zM314 96h1v2h-1zM313 98h1v2h-1zM400 99h1v3h-1zM312 100h1v2h-1zM311 102h1v1h-1zM401 102h1v3h-1zM310 103h1v2h-1zM309 105h1v1h-1zM402 105h1v3h-1zM308 106h1v2h-1zM291 108h2v1h-2zM306 108h2v1h-2zM403 108h1v3h-1zM293 109h3v1h-3zM304 109h2v1h-2zM290 109h1v2h-1zM296 110h2v1h-2zM301 110h3v1h-3zM289 111h1v1h-1zM298 111h3v1h-3zM404 111h1v3h-1zM288 112h1v2h-1zM287 114h1v1h-1zM405 114h1v3h-1zM286 115h1v2h-1zM285 117h1v1h-1zM406 117h1v3h-1zM284 118h1v2h-1zM283 120h1v1h-1zM407 120h1v3h-1zM282 121h1v1h-1zM280 122h2v1h-2zM279 123h1v1h-1zM408 123h1v3h-1zM278 124h1v1h-1zM276 125h2v1h-2zM275 126h1v1h-1zM409 126h1v3h-1zM274 127h1v1h-1zM272 128h2v1h-2zM271 129h1v1h-1zM410 129h1v3h-1zM270 130h1v1h-1zM268 131h2v1h-2zM267 132h1v1h-1zM411 132h1v3h-1zM266 133h1v1h-1zM265 134h1v2h-1zM412 135h1v2h-1zM264 136h1v1h-1zM263 137h1v1h-1zM413 137h1v2h-1zM262 138h1v1h-1zM261 139h1v2h-1zM414 139h1v2h-1zM260 141h1v1h-1zM415 141h1v2h-1zM259 142h1v1h-1zM257 143h2v1h-2zM416 143h1v2h-1zM256 144h1v1h-1zM254 145h2v1h-2zM417 145h1v2h-1zM253 146h1v1h-1zM252 147h1v2h-1zM418 147h1v2h-1zM251 149h1v2h-1zM419 149h1v3h-1zM250 151h1v2h-1zM420 152h1v4h-1zM249 153h1v3h-1zM248 156h1v2h-1zM421 156h1v4h-1zM247 158h1v2h-1zM209 160h5v1h-5zM246 160h1v3h-1zM422 160h1v5h-1zM206 161h3v1h-3zM214 161h4v1h-4zM204 162h2v1h-2zM218 162h3v1h-3zM203 163h1v1h-1zM221 163h3v1h-3zM245 163h1v2h-1zM224 164h2v1h-2zM202 164h1v2h-1zM226 165h3v1h-3zM244 165h1v2h-1zM423 165h1v6h-1zM229 166h3v1h-3zM201 166h1v2h-1zM232 167h2v1h-2zM650 167h3v1h-3zM243 167h1v2h-1zM234 168h9v1h-9zM648 168h2v1h-2zM653 168h2v1h-2zM200 168h1v2h-1zM645 169h3v1h-3zM655 169h2v1h-2zM199 170h1v1h-1zM643 170h2v1h-2zM657 170h2v1h-2zM680 170h4v1h-4zM642 171h1v1h-1zM659 171h5v1h-5zM672 171h8v1h-8zM684 171h1v1h-1zM198 171h1v2h-1zM424 171h1v6h-1zM641 172h1v1h-1zM664 172h8v1h-8zM685 172h1v1h-1zM640 173h1v1h-1zM686 173h2v1h-2zM197 173h1v2h-1zM638 174h2v1h-2zM688 174h1v1h-1zM637 175h1v1h-1zM689 175h1v1h-1zM196 175h1v2h-1zM636 176h1v1h-1zM690 176h1v1h-1zM195 177h1v1h-1zM635 177h1v1h-1zM691 177h1v1h-1zM425 177h1v6h-1zM692 178h2v1h-2zM194 178h1v2h-1zM634 178h1v2h-1zM694 179h2v1h-2zM696 180h1v1h-1zM193 180h1v2h-1zM633 180h1v2h-1zM697 181h2v1h-2zM192 182h1v1h-1zM699 182h1v1h-1zM632 182h1v2h-1zM700 183h1v1h-1zM191 183h1v2h-1zM426 183h1v5h-1zM701 184h1v1h-1zM631 184h1v2h-1zM190 185h1v1h-1zM702 185h1v1h-1zM703 186h1v1h-1zM189 186h1v2h-1zM630 186h1v2h-1zM704 187h1v1h-1zM705 188h1v1h-1zM188 188h1v2h-1zM629 188h1v2h-1zM427 188h1v4h-1zM706 189h1v1h-1zM187 190h1v1h-1zM707 190h2v1h-2zM628 190h1v2h-1zM186 191h1v1h-1zM709 191h2v1h-2zM546 192h2v1h-2zM627 192h1v1h-1zM711 192h2v1h-2zM185 192h1v2h-1zM428 192h1v5h-1zM542 193h4v1h-4zM548 193h1v1h-1zM713 193h2v1h-2zM626 193h1v2h-1zM184 194h1v1h-1zM539 194h3v1h-3zM549 194h1v1h-1zM715 194h2v1h-2zM183 195h1v1h-1zM538 195h1v1h-1zM550 195h1v1h-1zM717 195h2v1h-2zM625 195h1v2h-1zM182 196h1v1h-1zM537 196h1v1h-1zM719 196h2v1h-2zM551 196h1v2h-1zM536 197h1v1h-1zM721 197h2v1h-2zM181 197h1v2h-1zM624 197h1v2h-1zM429 197h1v4h-1zM534 198h2v1h-2zM552 198h1v1h-1zM723 198h2v1h-2zM180 199h1v1h-1zM533 199h1v1h-1zM553 199h1v1h-1zM623 199h1v1h-1zM725 199h3v1h-3zM738 199h12v1h-12zM179 200h1v1h-1zM532 200h1v1h-1zM554 200h1v1h-1zM728 200h2v1h-2zM734 200h4v1h-4zM750 200h4v1h-4zM622 200h1v2h-1zM178 201h1v1h-1zM531 201h1v1h-1zM730 201h4v1h-4zM754 201h2v1h-2zM555 201h1v2h-1zM430 201h1v4h-1zM176 202h2v1h-2zM530 202h1v1h-1zM819 202h1v1h-1zM621 202h1v2h-1zM756 202h1v2h-1zM175 203h1v1h-1zM529 203h1v1h-1zM818 203h1v1h-1zM556 203h1v2h-1zM174 204h1v1h-1zM528 204h1v1h-1zM817 204h1v1h-1zM620 204h1v2h-1zM757 204h1v2h-1zM172 205h2v1h-2zM526 205h2v1h-2zM816 205h1v1h-1zM557 205h1v2h-1zM431 205h1v3h-1zM525 206h1v1h-1zM619 206h1v1h-1zM758 206h1v1h-1zM171 206h1v2h-1zM815 206h1v2h-1zM514 207h6v1h-6zM524 207h1v1h-1zM618 207h1v1h-1zM558 207h1v2h-1zM759 207h1v2h-1zM512 208h2v1h-2zM520 208h4v1h-4zM617 208h1v1h-1zM787 208h2v1h-2zM814 208h1v1h-1zM170 208h1v2h-1zM432 208h1v3h-1zM509 209h3v1h-3zM616 209h1v1h-1zM760 209h1v1h-1zM785 209h2v1h-2zM789 209h3v1h-3zM802 209h4v1h-4zM813 209h1v1h-1zM559 209h1v3h-1zM507 210h2v1h-2zM614 210h2v1h-2zM783 210h2v1h-2zM792 210h2v1h-2zM798 210h4v1h-4zM806 210h4v1h-4zM812 210h1v1h-1zM169 210h1v2h-1zM761 210h1v2h-1zM506 211h1v1h-1zM613 211h1v1h-1zM781 211h2v1h-2zM794 211h4v1h-4zM810 211h2v1h-2zM433 211h1v4h-1zM505 212h1v1h-1zM612 212h1v1h-1zM776 212h5v1h-5zM560 212h1v2h-1zM762 212h1v2h-1zM168 212h1v3h-1zM504 213h1v1h-1zM610 213h2v1h-2zM768 213h8v1h-8zM503 214h1v1h-1zM608 214h2v1h-2zM763 214h5v1h-5zM561 214h1v2h-1zM502 215h1v1h-1zM605 215h3v1h-3zM167 215h1v2h-1zM434 215h1v3h-1zM501 216h1v1h-1zM603 216h2v1h-2zM562 216h1v2h-1zM500 217h1v1h-1zM602 217h1v1h-1zM166 217h1v2h-1zM440 218h4v1h-4zM563 218h1v1h-1zM601 218h1v1h-1zM435 218h1v2h-1zM499 218h1v2h-1zM436 219h4v1h-4zM444 219h1v1h-1zM564 219h1v1h-1zM600 219h1v1h-1zM165 219h1v2h-1zM445 220h1v1h-1zM565 220h1v1h-1zM598 220h2v1h-2zM498 220h1v4h-1zM446 221h1v1h-1zM566 221h1v1h-1zM597 221h1v1h-1zM164 221h1v2h-1zM596 222h1v1h-1zM447 222h1v2h-1zM567 222h1v2h-1zM587 223h9v1h-9zM163 223h1v2h-1zM448 224h1v1h-1zM568 224h1v1h-1zM586 224h1v1h-1zM497 224h1v3h-1zM449 225h1v1h-1zM569 225h1v1h-1zM585 225h1v1h-1zM162 225h1v2h-1zM450 226h1v1h-1zM570 226h1v1h-1zM584 226h1v1h-1zM451 227h1v1h-1zM571 227h2v1h-2zM583 227h1v1h-1zM161 227h1v2h-1zM496 227h1v4h-1zM452 228h2v1h-2zM573 228h2v1h-2zM582 228h1v1h-1zM454 229h1v1h-1zM575 229h2v1h-2zM581 229h1v1h-1zM160 229h1v2h-1zM455 230h1v1h-1zM577 230h2v1h-2zM580 230h1v1h-1zM456 231h2v1h-2zM579 231h1v1h-1zM159 231h1v2h-1zM495 231h1v3h-1zM458 232h1v1h-1zM459 233h2v1h-2zM158 233h1v2h-1zM461 234h2v1h-2zM494 234h1v2h-1zM463 235h2v1h-2zM157 235h1v2h-1zM465 236h2v1h-2zM493 236h1v2h-1zM467 237h1v1h-1zM156 237h1v3h-1zM468 238h1v2h-1zM492 238h1v3h-1zM469 240h1v1h-1zM155 240h1v2h-1zM470 241h1v2h-1zM491 241h1v2h-1zM154 242h1v2h-1zM471 243h1v1h-1zM490 243h1v2h-1zM153 244h1v2h-1zM472 244h1v2h-1zM489 245h1v2h-1zM473 246h1v1h-1zM152 246h1v3h-1zM474 247h1v2h-1zM488 247h1v2h-1zM475 249h1v1h-1zM151 249h1v2h-1zM487 249h1v2h-1zM476 250h1v1h-1zM477 251h1v1h-1zM486 251h1v1h-1zM150 251h1v2h-1zM478 252h2v1h-2zM485 252h1v2h-1zM480 253h1v1h-1zM149 253h1v3h-1zM481 254h1v1h-1zM484 254h1v2h-1zM482 255h1v1h-1zM483 256h1v1h-1zM148 256h1v3h-1zM147 259h1v3h-1zM146 262h1v2h-1zM145 264h1v3h-1zM144 267h1v3h-1zM143 270h1v2h-1zM142 272h1v2h-1zM141 274h1v2h-1zM140 276h1v2h-1zM139 278h1v1h-1zM138 279h1v2h-1zM137 281h1v1h-1zM136 282h1v2h-1zM135 284h1v1h-1zM134 285h1v1h-1zM133 286h1v1h-1zM132 287h1v1h-1zM131 288h1v1h-1zM130 289h1v1h-1zM129 290h1v2h-1zM128 292h1v1h-1zM127 293h1v1h-1zM126 294h1v2h-1zM125 296h1v2h-1zM124 298h1v2h-1zM123 300h1v2h-1zM122 302h1v2h-1zM121 304h1v3h-1zM120 307h1v2h-1zM119 309h1v2h-1zM117 311h2v1h-2zM115 312h2v1h-2zM114 313h1v1h-1zM113 314h1v1h-1zM112 315h1v1h-1zM110 316h2v1h-2zM82 317h3v1h-3zM109 317h1v1h-1zM80 318h2v1h-2zM85 318h2v1h-2zM108 318h1v1h-1zM59 319h3v1h-3zM77 319h3v1h-3zM87 319h2v1h-2zM107 319h1v1h-1zM57 320h2v1h-2zM62 320h4v1h-4zM72 320h5v1h-5zM89 320h2v1h-2zM106 320h1v1h-1zM56 321h1v1h-1zM66 321h6v1h-6zM91 321h1v1h-1zM105 321h1v1h-1zM54 322h2v1h-2zM92 322h2v1h-2zM104 322h1v1h-1zM52 323h2v1h-2zM94 323h2v1h-2zM102 323h2v1h-2zM48 324h4v1h-4zM96 324h1v1h-1zM101 324h1v1h-1zM40 325h8v1h-8zM97 325h2v1h-2zM100 325h1v1h-1zM35 326h5v1h-5zM99 326h1v1h-1zM34 327h1v1h-1zM33 328h1v1h-1zM32 329h1v1h-1zM31 330h1v1h-1zM30 331h1v2h-1zM29 333h1v2h-1zM28 335h1v2h-1zM27 337h1v3h-1zM26 340h1v3h-1zM25 343h1v3h-1zM24 346h1v3h-1zM23 349h1v4h-1zM22 353h1v4h-1zM21 357h1v5h-1zM20 362h1v4h-1zM19 366h1v3h-1zM18 369h1v2h-1zM17 371h1v2h-1zM16 373h1v2h-1zM15 375h1v2h-1zM14 377h1v1h-1zM13 378h1v2h-1zM3 380h5v1h-5zM12 380h1v1h-1zM8 381h4v1h-4z" fill="#ff0000" shape-rendering="crispEdges"/>
<path d="M387 62h1v1h-1zM385 63h2v1h-2zM388 63h1v2h-1zM384 64h1v1h-1zM382 65h2v1h-2zM389 65h1v2h-1zM380 66h2v1h-2zM379 67h1v1h-1zM390 67h1v2h-1zM377 68h2v1h-2zM376 69h1v1h-1zM391 69h1v2h-1zM374 70h2v1h-2zM372 71h2v1h-2zM392 71h1v2h-1zM371 72h1v1h-1zM370 73h1v1h-1zM393 73h1v2h-1zM368 74h2v1h-2zM367 75h1v1h-1zM394 75h1v2h-1zM366 76h1v1h-1zM364 77h2v1h-2zM395 77h1v2h-1zM354 78h10v1h-10zM352 79h2v1h-2zM396 79h1v2h-1zM349 80h3v1h-3zM344 81h5v1h-5zM397 81h1v2h-1zM339 82h5v1h-5zM337 83h2v1h-2zM398 83h1v2h-1zM336 84h1v1h-1zM334 85h2v1h-2zM399 85h1v2h-1zM332 86h2v1h-2zM331 87h1v1h-1zM400 87h1v2h-1zM330 88h1v1h-1zM329 89h1v2h-1zM401 89h1v2h-1zM328 91h1v1h-1zM402 91h1v2h-1zM327 92h1v1h-1zM326 93h1v1h-1zM403 93h1v2h-1zM325 94h1v2h-1zM404 95h1v2h-1zM324 96h1v1h-1zM323 97h1v2h-1zM405 97h1v2h-1zM322 99h1v2h-1zM406 99h1v2h-1zM407 101h1v1h-1zM321 101h1v2h-1zM408 102h1v2h-1zM320 103h1v2h-1zM409 104h1v2h-1zM319 105h1v2h-1zM410 106h1v2h-1zM318 107h1v2h-1zM411 108h1v1h-1zM317 109h1v2h-1zM412 109h1v2h-1zM316 111h1v2h-1zM413 111h1v2h-1zM315 113h1v1h-1zM414 113h1v1h-1zM314 114h1v1h-1zM415 114h1v2h-1zM313 115h1v1h-1zM312 116h1v1h-1zM416 116h1v1h-1zM311 117h1v1h-1zM417 117h1v2h-1zM310 118h1v1h-1zM309 119h1v1h-1zM418 119h1v2h-1zM308 120h1v1h-1zM307 121h1v1h-1zM419 121h1v2h-1zM305 122h2v1h-2zM303 123h2v1h-2zM420 123h1v2h-1zM301 124h2v1h-2zM298 125h3v1h-3zM421 125h1v2h-1zM296 126h2v1h-2zM293 127h3v1h-3zM422 127h1v4h-1zM291 128h2v1h-2zM290 129h1v1h-1zM289 130h1v1h-1zM288 131h1v1h-1zM423 131h1v4h-1zM287 132h1v2h-1zM286 134h1v1h-1zM285 135h1v1h-1zM424 135h1v4h-1zM284 136h1v1h-1zM283 137h1v1h-1zM282 138h1v1h-1zM281 139h1v1h-1zM425 139h1v4h-1zM280 140h1v1h-1zM278 141h2v1h-2zM277 142h1v1h-1zM276 143h1v1h-1zM426 143h1v4h-1zM275 144h1v1h-1zM274 145h1v1h-1zM273 146h1v1h-1zM272 147h1v1h-1zM427 147h1v4h-1zM270 148h2v1h-2zM269 149h1v1h-1zM268 150h1v1h-1zM267 151h1v1h-1zM428 151h1v3h-1zM266 152h1v1h-1zM265 153h1v1h-1zM264 154h1v1h-1zM429 154h1v3h-1zM262 155h2v1h-2zM261 156h1v1h-1zM260 157h1v1h-1zM430 157h1v3h-1zM259 158h1v1h-1zM258 159h1v1h-1zM256 160h2v1h-2zM431 160h1v2h-1zM255 161h1v1h-1zM254 162h1v1h-1zM432 162h1v3h-1zM252 163h2v1h-2zM251 164h1v1h-1zM250 165h1v2h-1zM433 165h1v3h-1zM249 167h1v2h-1zM434 168h1v3h-1zM248 169h1v1h-1zM247 170h1v2h-1zM435 171h1v2h-1zM246 172h1v1h-1zM436 173h1v1h-1zM245 173h1v2h-1zM437 174h1v2h-1zM244 175h1v2h-1zM438 176h1v1h-1zM680 176h6v1h-6zM240 177h4v1h-4zM439 177h1v1h-1zM672 177h8v1h-8zM686 177h4v1h-4zM234 178h6v1h-6zM440 178h1v1h-1zM664 178h8v1h-8zM690 178h3v1h-3zM230 179h4v1h-4zM658 179h6v1h-6zM693 179h2v1h-2zM441 179h1v2h-1zM226 180h4v1h-4zM654 180h4v1h-4zM695 180h2v1h-2zM222 181h4v1h-4zM442 181h1v1h-1zM650 181h4v1h-4zM697 181h2v1h-2zM218 182h4v1h-4zM443 182h1v1h-1zM648 182h2v1h-2zM699 182h2v1h-2zM216 183h2v1h-2zM444 183h1v1h-1zM645 183h3v1h-3zM701 183h2v1h-2zM213 184h3v1h-3zM643 184h2v1h-2zM703 184h2v1h-2zM445 184h1v2h-1zM211 185h2v1h-2zM642 185h1v1h-1zM705 185h2v1h-2zM210 186h1v1h-1zM446 186h1v1h-1zM641 186h1v1h-1zM707 186h3v1h-3zM208 187h2v1h-2zM447 187h1v1h-1zM640 187h1v1h-1zM710 187h4v1h-4zM207 188h1v1h-1zM448 188h1v1h-1zM638 188h2v1h-2zM714 188h3v1h-3zM206 189h1v1h-1zM637 189h1v1h-1zM717 189h3v1h-3zM449 189h1v2h-1zM204 190h2v1h-2zM636 190h1v1h-1zM720 190h2v1h-2zM203 191h1v1h-1zM450 191h1v1h-1zM635 191h1v1h-1zM722 191h3v1h-3zM451 192h1v1h-1zM634 192h1v1h-1zM725 192h3v1h-3zM202 192h1v2h-1zM633 193h1v1h-1zM728 193h2v1h-2zM452 193h1v2h-1zM632 194h1v1h-1zM730 194h6v1h-6zM201 194h1v2h-1zM453 195h1v1h-1zM631 195h1v1h-1zM736 195h8v1h-8zM454 196h1v1h-1zM630 196h1v1h-1zM744 196h8v1h-8zM200 196h1v2h-1zM629 197h1v1h-1zM752 197h4v1h-4zM455 197h1v2h-1zM628 198h1v1h-1zM756 198h1v1h-1zM199 198h1v2h-1zM456 199h1v1h-1zM546 199h3v1h-3zM627 199h1v1h-1zM757 199h1v1h-1zM457 200h1v1h-1zM542 200h4v1h-4zM549 200h3v1h-3zM626 200h1v1h-1zM758 200h1v1h-1zM198 200h1v2h-1zM539 201h3v1h-3zM552 201h2v1h-2zM625 201h1v1h-1zM759 201h1v1h-1zM819 201h1v1h-1zM458 201h1v2h-1zM537 202h2v1h-2zM554 202h2v1h-2zM624 202h1v1h-1zM760 202h1v1h-1zM818 202h1v1h-1zM197 202h1v2h-1zM459 203h1v1h-1zM536 203h1v1h-1zM556 203h1v1h-1zM623 203h1v1h-1zM761 203h1v1h-1zM817 203h1v1h-1zM460 204h1v1h-1zM534 204h2v1h-2zM622 204h1v1h-1zM762 204h1v1h-1zM816 204h1v1h-1zM196 204h1v2h-1zM557 204h1v2h-1zM461 205h1v1h-1zM532 205h2v1h-2zM621 205h1v1h-1zM763 205h5v1h-5zM786 205h6v1h-6zM814 205h2v1h-2zM195 206h1v1h-1zM462 206h1v1h-1zM531 206h1v1h-1zM558 206h1v1h-1zM620 206h1v1h-1zM768 206h8v1h-8zM782 206h4v1h-4zM792 206h8v1h-8zM813 206h1v1h-1zM463 207h1v1h-1zM529 207h2v1h-2zM559 207h1v1h-1zM619 207h1v1h-1zM776 207h6v1h-6zM800 207h8v1h-8zM812 207h1v1h-1zM194 207h1v2h-1zM464 208h1v1h-1zM528 208h1v1h-1zM560 208h1v1h-1zM618 208h1v1h-1zM808 208h4v1h-4zM193 209h1v1h-1zM465 209h1v1h-1zM526 209h2v1h-2zM617 209h1v1h-1zM561 209h1v2h-1zM192 210h1v1h-1zM466 210h1v1h-1zM524 210h2v1h-2zM616 210h1v1h-1zM467 211h1v1h-1zM514 211h10v1h-10zM562 211h1v1h-1zM614 211h2v1h-2zM191 211h1v2h-1zM468 212h1v1h-1zM510 212h4v1h-4zM563 212h1v1h-1zM613 212h1v1h-1zM190 213h1v1h-1zM507 213h3v1h-3zM564 213h2v1h-2zM612 213h1v1h-1zM469 213h1v2h-1zM189 214h1v1h-1zM505 214h2v1h-2zM566 214h1v1h-1zM610 214h2v1h-2zM470 215h1v1h-1zM503 215h2v1h-2zM567 215h1v1h-1zM608 215h2v1h-2zM188 215h1v2h-1zM471 216h1v1h-1zM501 216h2v1h-2zM568 216h2v1h-2zM605 216h3v1h-3zM187 217h1v1h-1zM472 217h1v1h-1zM499 217h2v1h-2zM570 217h1v1h-1zM602 217h3v1h-3zM571 218h2v1h-2zM600 218h2v1h-2zM186 218h1v2h-1zM473 218h1v2h-1zM498 218h1v2h-1zM573 219h3v1h-3zM597 219h3v1h-3zM185 220h1v1h-1zM474 220h1v1h-1zM497 220h1v1h-1zM576 220h2v1h-2zM584 220h13v1h-13zM475 221h1v1h-1zM496 221h1v1h-1zM578 221h6v1h-6zM184 221h1v2h-1zM476 222h1v1h-1zM495 222h1v2h-1zM183 223h1v1h-1zM477 223h1v1h-1zM478 224h1v1h-1zM494 224h1v1h-1zM182 224h1v2h-1zM493 225h1v1h-1zM479 225h1v2h-1zM181 226h1v1h-1zM492 226h1v2h-1zM480 227h1v1h-1zM180 227h1v2h-1zM481 228h1v1h-1zM490 228h2v1h-2zM179 229h1v1h-1zM482 229h1v1h-1zM486 229h4v1h-4zM178 230h1v1h-1zM483 230h3v1h-3zM177 231h1v1h-1zM176 232h1v1h-1zM175 233h1v2h-1zM174 235h1v1h-1zM173 236h1v1h-1zM172 237h1v1h-1zM171 238h1v1h-1zM170 239h1v2h-1zM169 241h1v2h-1zM168 243h1v1h-1zM167 244h1v2h-1zM166 246h1v1h-1zM165 247h1v2h-1zM164 249h1v2h-1zM163 251h1v1h-1zM162 252h1v2h-1zM161 254h1v2h-1zM160 256h1v1h-1zM159 257h1v2h-1zM158 259h1v2h-1zM157 261h1v2h-1zM156 263h1v2h-1zM155 265h1v1h-1zM154 266h1v2h-1zM153 268h1v2h-1zM152 270h1v2h-1zM151 272h1v2h-1zM150 274h1v2h-1zM149 276h1v1h-1zM148 277h1v2h-1zM147 279h1v2h-1zM146 281h1v2h-1zM145 283h1v2h-1zM144 285h1v2h-1zM143 287h1v2h-1zM142 289h1v1h-1zM141 290h1v2h-1zM140 292h1v1h-1zM139 293h1v1h-1zM138 294h1v1h-1zM137 295h1v2h-1zM136 297h1v1h-1zM135 298h1v1h-1zM134 299h1v1h-1zM132 300h2v1h-2zM131 301h1v1h-1zM130 302h1v1h-1zM129 303h1v1h-1zM128 304h1v1h-1zM127 305h1v1h-1zM126 306h1v1h-1zM125 307h1v1h-1zM124 308h1v1h-1zM123 309h1v1h-1zM122 310h1v2h-1zM121 312h1v2h-1zM120 314h1v2h-1zM119 316h1v1h-1zM118 317h1v1h-1zM116 318h2v1h-2zM114 319h2v1h-2zM112 320h2v1h-2zM109 321h3v1h-3zM107 322h2v1h-2zM105 323h2v1h-2zM104 324h1v1h-1zM82 325h6v1h-6zM102 325h2v1h-2zM80 326h2v1h-2zM88 326h8v1h-8zM100 326h2v1h-2zM77 327h3v1h-3zM96 327h4v1h-4zM72 328h5v1h-5zM66 329h6v1h-6zM64 330h2v1h-2zM61 331h3v1h-3zM59 332h2v1h-2zM57 333h2v1h-2zM55 334h2v1h-2zM53 335h2v1h-2zM51 336h2v1h-2zM49 337h2v1h-2zM47 338h2v1h-2zM45 339h2v1h-2zM42 340h3v1h-3zM40 341h2v1h-2zM37 342h3v1h-3zM35 343h2v1h-2zM33 344h2v1h-2zM31 345h2v1h-2zM30 346h1v2h-1zM29 348h1v1h-1zM28 349h1v2h-1zM27 351h1v2h-1zM26 353h1v2h-1zM25 355h1v2h-1zM24 357h1v3h-1zM23 360h1v2h-1zM22 362h1v3h-1zM21 365h1v2h-1zM20 367h1v2h-1zM19 369h1v2h-1zM17 371h2v1h-2zM16 372h1v1h-1zM3 373h3v1h-3zM14 373h2v1h-2zM6 374h4v1h-4zM12 374h2v1h-2zM10 375h2v1h-2z" fill="#ffff00" shape-rendering="crispEdges"/>
</g>
<g clip-path="url(#cs)" shape-rendering="crispEdges">
<rect x="3" y="483" width="1" height="11" fill="#c0c0c0"/>
<rect x="11" y="485" width="1" height="9" fill="#c0c0c0"/>
<rect x="19" y="482" width="1" height="12" fill="#c0c0c0"/>
<rect x="27" y="475" width="1" height="19" fill="#c0c0c0"/>
<rect x="35" y="473" width="1" height="21" fill="#c0c0c0"/>
<rect x="43" y="472" width="1" height="22" fill="#c0c0c0"/>
<rect x="51" y="472" width="1" height="22" fill="#c0c0c0"/>
<rect x="59" y="471" width="1" height="23" fill="#c0c0c0"/>
<rect x="67" y="472" width="1" height="22" fill="#c0c0c0"/>
<rect x="75" y="472" width="1" height="22" fill="#c0c0c0"/>
<rect x="83" y="472" width="1" height="22" fill="#c0c0c0"/>
<rect x="91" y="474" width="1" height="20" fill="#c0c0c0"/>
<rect x="99" y="476" width="1" height="18" fill="#c0c0c0"/>
<rect x="107" y="474" width="1" height="20" fill="#c0c0c0"/>
<rect x="115" y="474" width="1" height="20" fill="#c0c0c0"/>
<rect x="123" y="471" width="1" height="23" fill="#c0c0c0"/>
<rect x="131" y="469" width="1" height="25" fill="#c0c0c0"/>
<rect x="139" y="467" width="1" height="27" fill="#c0c0c0"/>
<rect x="147" y="463" width="1" height="31" fill="#c0c0c0"/>
<rect x="155" y="458" width="1" height="36" fill="#c0c0c0"/>
<rect x="163" y="454" width="1" height="40" fill="#c0c0c0"/>
<rect x="171" y="449" width="1" height="45" fill="#c0c0c0"/>
<rect x="179" y="447" width="1" height="47" fill="#c0c0c0"/>
<rect x="187" y="445" width="1" height="49" fill="#c0c0c0"/>
<rect x="195" y="442" width="1" height="52" fill="#c0c0c0"/>
<rect x="203" y="439" width="1" height="55" fill="#c0c0c0"/>
<rect x="211" y="439" width="1" height="55" fill="#c0c0c0"/>
<rect x="219" y="441" width="1" height="53" fill="#c0c0c0"/>
<rect x="227" y="444" width="1" height="50" fill="#c0c0c0"/>
<rect x="235" y="446" width="1" height="48" fill="#c0c0c0"/>
<rect x="243" y="448" width="1" height="46" fill="#c0c0c0"/>
<rect x="251" y="445" width="1" height="49" fill="#c0c0c0"/>
<rect x="259" y="445" width="1" height="49" fill="#c0c0c0"/>
<rect x="267" y="444" width="1" height="50" fill="#c0c0c0"/>
<rect x="275" y="445" width="1" height="49" fill="#c0c0c0"/>
<rect x="283" y="445" width="1" height="49" fill="#c0c0c0"/>
<rect x="291" y="443" width="1" height="51" fill="#c0c0c0"/>
<rect x="299" y="445" width="1" height="49" fill="#c0c0c0"/>
<rect x="307" y="447" width="1" height="47" fill="#c0c0c0"/>
<rect x="315" y="445" width="1" height="49" fill="#c0c0c0"/>
<rect x="323" y="442" width="1" height="52" fill="#c0c0c0"/>
<rect x="331" y="440" width="1" height="54" fill="#c0c0c0"/>
<rect x="339" y="441" width="1" height="53" fill="#c0c0c0"/>
<rect x="347" y="444" width="1" height="50" fill="#c0c0c0"/>
<rect x="355" y="446" width="1" height="48" fill="#c0c0c0"/>
<rect x="363" y="448" width="1" height="46" fill="#c0c0c0"/>
<rect x="371" y="449" width="1" height="45" fill="#c0c0c0"/>
<rect x="379" y="450" width="1" height="44" fill="#c0c0c0"/>
<rect x="387" y="450" width="1" height="44" fill="#c0c0c0"/>
<rect x="395" y="461" width="1" height="33" fill="#c0c0c0"/>
<rect x="403" y="470" width="1" height="24" fill="#c0c0c0"/>
<rect x="411" y="479" width="1" height="15" fill="#c0c0c0"/>
<rect x="419" y="486" width="1" height="8" fill="#c0c0c0"/>
<rect x="427" y="493" width="1" height="6" fill="#c0c0c0"/>
<rect x="435" y="493" width="1" height="17" fill="#c0c0c0"/>
<rect x="443" y="493" width="1" height="20" fill="#c0c0c0"/>
<rect x="451" y="493" width="1" height="25" fill="#c0c0c0"/>
<rect x="459" y="493" width="1" height="28" fill="#c0c0c0"/>
<rect x="467" y="493" width="1" height="31" fill="#c0c0c0"/>
<rect x="475" y="493" width="1" height="35" fill="#c0c0c0"/>
<rect x="483" y="493" width="1" height="37" fill="#c0c0c0"/>
<rect x="491" y="493" width="1" height="34" fill="#c0c0c0"/>
<rect x="499" y="493" width="1" height="27" fill="#c0c0c0"/>
<rect x="507" y="493" width="1" height="24" fill="#c0c0c0"/>
<rect x="515" y="493" width="1" height="21" fill="#c0c0c0"/>
<rect x="523" y="493" width="1" height="20" fill="#c0c0c0"/>
<rect x="531" y="493" width="1" height="16" fill="#c0c0c0"/>
<rect x="539" y="493" width="1" height="13" fill="#c0c0c0"/>
<rect x="547" y="493" width="1" height="11" fill="#c0c0c0"/>
<rect x="555" y="493" width="1" height="12" fill="#c0c0c0"/>
<rect x="563" y="493" width="1" height="16" fill="#c0c0c0"/>
<rect x="571" y="493" width="1" height="17" fill="#c0c0c0"/>
<rect x="579" y="493" width="1" height="18" fill="#c0c0c0"/>
<rect x="587" y="493" width="1" height="15" fill="#c0c0c0"/>
<rect x="595" y="493" width="1" height="15" fill="#c0c0c0"/>
<rect x="603" y="493" width="1" height="12" fill="#c0c0c0"/>
<rect x="611" y="493" width="1" height="11" fill="#c0c0c0"/>
<rect x="619" y="493" width="1" height="8" fill="#c0c0c0"/>
<rect x="627" y="493" width="1" height="4" fill="#c0c0c0"/>
<rect x="635" y="493" width="1" height="1" fill="#c0c0c0"/>
<rect x="643" y="490" width="1" height="4" fill="#c0c0c0"/>
<rect x="651" y="487" width="1" height="7" fill="#c0c0c0"/>
<rect x="659" y="487" width="1" height="7" fill="#c0c0c0"/>
<rect x="667" y="487" width="1" height="7" fill="#c0c0c0"/>
<rect x="675" y="487" width="1" height="7" fill="#c0c0c0"/>
<rect x="683" y="486" width="1" height="8" fill="#c0c0c0"/>
<rect x="691" y="487" width="1" height="7" fill="#c0c0c0"/>
<rect x="699" y="489" width="1" height="5" fill="#c0c0c0"/>
<rect x="707" y="492" width="1" height="2" fill="#c0c0c0"/>
<rect x="715" y="493" width="1" height="1" fill="#c0c0c0"/>
<rect x="731" y="493" width="1" height="2" fill="#c0c0c0"/>
<rect x="739" y="493" width="1" height="2" fill="#c0c0c0"/>
<rect x="747" y="493" width="1" height="2" fill="#c0c0c0"/>
<rect x="755" y="493" width="1" height="3" fill="#c0c0c0"/>
<rect x="763" y="493" width="1" height="6" fill="#c0c0c0"/>
<rect x="771" y="493" width="1" height="6" fill="#c0c0c0"/>
<rect x="779" y="493" width="1" height="7" fill="#c0c0c0"/>
<rect x="787" y="493" width="1" height="5" fill="#c0c0c0"/>
<rect x="795" y="493" width="1" height="6" fill="#c0c0c0"/>
<rect x="803" y="493" width="1" height="6" fill="#c0c0c0"/>
<rect x="811" y="493" width="1" height="6" fill="#c0c0c0"/>
<rect x="819" y="493" width="1" height="3" fill="#c0c0c0"/>
</g>
<g clip-path="url(#cs)">
<path d="M231 442h3v1h-3zM237 442h3v1h-3zM243 442h3v1h-3zM249 442h3v1h-3zM255 442h3v1h-3zM261 442h3v1h-3zM267 442h3v1h-3zM225 443h3v1h-3zM273 443h3v1h-3zM279 443h1v1h-1zM328 443h2v1h-2zM333 443h3v1h-3zM339 443h3v1h-3zM345 443h3v1h-3zM351 443h3v1h-3zM357 443h3v1h-3zM363 443h3v1h-3zM221 444h1v1h-1zM280 444h2v1h-2zM285 444h3v1h-3zM291 444h3v1h-3zM297 444h3v1h-3zM303 444h3v1h-3zM309 444h3v1h-3zM315 444h3v1h-3zM321 444h3v1h-3zM327 444h1v1h-1zM369 444h3v1h-3zM375 444h3v1h-3zM381 444h3v1h-3zM219 445h2v1h-2zM387 445h3v1h-3zM393 446h1v1h-1zM215 447h1v1h-1zM394 447h2v1h-2zM213 448h2v1h-2zM399 448h1v1h-1zM400 449h2v1h-2zM207 450h3v1h-3zM202 451h2v1h-2zM405 451h2v1h-2zM201 452h1v1h-1zM407 452h1v1h-1zM197 453h1v1h-1zM195 454h2v1h-2zM411 454h1v1h-1zM412 455h2v1h-2zM189 456h3v1h-3zM184 458h2v1h-2zM417 458h2v1h-2zM183 459h1v1h-1zM419 459h1v1h-1zM178 460h2v1h-2zM177 461h1v1h-1zM173 462h1v1h-1zM423 462h1v1h-1zM171 463h2v1h-2zM424 463h2v1h-2zM165 465h3v1h-3zM159 467h3v1h-3zM429 467h1v1h-1zM154 468h2v1h-2zM430 468h2v1h-2zM153 469h1v1h-1zM147 470h3v1h-3zM3 471h3v1h-3zM136 471h2v1h-2zM141 471h3v1h-3zM9 472h1v1h-1zM81 472h3v1h-3zM87 472h3v1h-3zM93 472h3v1h-3zM99 472h3v1h-3zM105 472h3v1h-3zM111 472h3v1h-3zM117 472h3v1h-3zM123 472h3v1h-3zM129 472h3v1h-3zM135 472h1v1h-1zM435 472h1v1h-1zM10 473h2v1h-2zM75 473h3v1h-3zM436 473h1v1h-1zM15 474h3v1h-3zM437 474h1v1h-1zM21 475h3v1h-3zM69 475h3v1h-3zM27 476h3v1h-3zM57 476h3v1h-3zM63 476h3v1h-3zM33 477h3v1h-3zM39 477h3v1h-3zM45 477h3v1h-3zM51 477h3v1h-3zM441 477h1v1h-1zM442 478h1v1h-1zM443 479h1v1h-1zM447 483h1v1h-1zM448 484h1v1h-1zM449 485h1v1h-1zM699 487h3v1h-3zM705 487h3v1h-3zM711 487h3v1h-3zM717 487h3v1h-3zM694 488h2v1h-2zM723 488h3v1h-3zM453 489h1v1h-1zM688 489h2v1h-2zM693 489h1v1h-1zM729 489h3v1h-3zM735 489h1v1h-1zM454 490h1v1h-1zM682 490h2v1h-2zM687 490h1v1h-1zM736 490h2v1h-2zM741 490h3v1h-3zM455 491h1v1h-1zM681 491h1v1h-1zM747 491h3v1h-3zM677 492h1v1h-1zM753 492h3v1h-3zM759 492h1v1h-1zM675 493h2v1h-2zM760 493h2v1h-2zM765 493h3v1h-3zM669 494h3v1h-3zM771 494h3v1h-3zM459 495h1v1h-1zM663 495h3v1h-3zM777 495h1v1h-1zM460 496h1v1h-1zM658 496h2v1h-2zM778 496h2v1h-2zM783 496h1v1h-1zM461 497h1v1h-1zM657 497h1v1h-1zM784 497h2v1h-2zM789 497h3v1h-3zM653 498h1v1h-1zM795 498h3v1h-3zM801 498h3v1h-3zM807 498h3v1h-3zM813 498h3v1h-3zM651 499h2v1h-2zM465 500h1v1h-1zM466 501h1v1h-1zM645 501h3v1h-3zM467 502h1v1h-1zM639 503h3v1h-3zM634 504h2v1h-2zM471 505h1v1h-1zM633 505h1v1h-1zM472 506h2v1h-2zM627 506h3v1h-3zM603 507h3v1h-3zM609 507h3v1h-3zM615 507h3v1h-3zM621 507h3v1h-3zM585 508h3v1h-3zM591 508h3v1h-3zM597 508h3v1h-3zM477 509h1v1h-1zM579 509h3v1h-3zM478 510h1v1h-1zM568 510h2v1h-2zM573 510h3v1h-3zM479 511h1v1h-1zM562 511h2v1h-2zM567 511h1v1h-1zM561 512h1v1h-1zM555 513h3v1h-3zM483 514h2v1h-2zM550 514h2v1h-2zM485 515h1v1h-1zM549 515h1v1h-1zM544 516h2v1h-2zM489 517h2v1h-2zM543 517h1v1h-1zM491 518h1v1h-1zM538 518h2v1h-2zM495 519h3v1h-3zM537 519h1v1h-1zM501 520h3v1h-3zM531 520h3v1h-3zM507 521h3v1h-3zM520 521h2v1h-2zM525 521h3v1h-3zM513 522h3v1h-3zM519 522h1v1h-1z" fill="#ff0000" shape-rendering="crispEdges"/>
</g>
<g shape-rendering="crispEdges" fill="#fff">
<rect x="2" y="0" width="930" height="1"/>
<rect x="2" y="0" width="1" height="431"/>
<rect x="2" y="430" width="930" height="1"/>
<rect x="931" y="0" width="1" height="431"/>
<rect x="2" y="432" width="930" height="1"/>
<rect x="2" y="432" width="1" height="104"/>
<rect x="2" y="535" width="930" height="1"/>
<rect x="931" y="432" width="1" height="104"/>
<rect x="2" y="537" width="930" height="1"/>
<rect x="2" y="537" width="1" height="2"/>
<rect x="931" y="537" width="1" height="2"/>
<rect x="932" y="31" width="2" height="1"/>
<rect x="932" y="64" width="2" height="1"/>
<rect x="932" y="97" width="2" height="1"/>
<rect x="932" y="130" width="2" height="1"/>
<rect x="932" y="163" width="2" height="1"/>
<rect x="932" y="196" width="2" height="1"/>
<rect x="932" y="229" width="2" height="1"/>
<rect x="932" y="262" width="2" height="1"/>
<rect x="932" y="295" width="2" height="1"/>
<rect x="932" y="328" width="2" height="1"/>
<rect x="932" y="361" width="2" height="1"/>
<rect x="932" y="394" width="2" height="1"/>
<rect x="932" y="427" width="2" height="1"/>
<rect x="932" y="434" width="1" height="1"/>
<rect x="932" y="493" width="1" height="1"/>
<rect x="932" y="534" width="1" height="1"/>
</g>
<path d="M6 7h7v1h-7zM7 8h5v1h-5zM8 9h3v1h-3zM9 10h1v1h-1z" fill="#fff" shape-rendering="crispEdges"/>
<g transform="translate(18,12) scale(0.856,1)"><text>LLG,H1</text><text>LLG,H1</text></g>
<g transform="translate(54,12) scale(0.899,1)"><text>4646.24</text><text>4646.24</text></g>
<g transform="translate(90,12) scale(0.899,1)"><text>4690.93</text><text>4690.93</text></g>
<g transform="translate(126,12) scale(0.899,1)"><text>4644.13</text><text>4644.13</text></g>
<g transform="translate(162,12) scale(0.899,1)"><text>4681.05</text><text>4681.05</text></g>
<g transform="translate(7.6,445) scale(0.921,1)"><text>MACD(12,26,9)</text><text>MACD(12,26,9)</text></g>
<g transform="translate(76,445) scale(0.899,1)"><text>-1.816</text><text>-1.816</text></g>
<g transform="translate(105.5,445) scale(0.899,1)"><text>-3.981</text><text>-3.981</text></g>
<g transform="translate(937,35) scale(0.899,1)"><text>4792.60</text><text>4792.60</text></g>
<g transform="translate(937,68) scale(0.899,1)"><text>4766.35</text><text>4766.35</text></g>
<g transform="translate(937,101) scale(0.899,1)"><text>4740.10</text><text>4740.10</text></g>
<g transform="translate(937,134) scale(0.899,1)"><text>4713.85</text><text>4713.85</text></g>
<g transform="translate(937,167) scale(0.899,1)"><text>4686.85</text><text>4686.85</text></g>
<g transform="translate(937,200) scale(0.899,1)"><text>4660.60</text><text>4660.60</text></g>
<g transform="translate(937,233) scale(0.899,1)"><text>4634.35</text><text>4634.35</text></g>
<g transform="translate(937,266) scale(0.899,1)"><text>4608.10</text><text>4608.10</text></g>
<g transform="translate(937,299) scale(0.899,1)"><text>4581.85</text><text>4581.85</text></g>
<g transform="translate(937,332) scale(0.899,1)"><text>4555.60</text><text>4555.60</text></g>
<g transform="translate(937,365) scale(0.899,1)"><text>4529.35</text><text>4529.35</text></g>
<g transform="translate(937,398) scale(0.899,1)"><text>4503.10</text><text>4503.10</text></g>
<g transform="translate(937,431) scale(0.899,1)"><text>4476.85</text><text>4476.85</text></g>
<rect x="933" y="166" width="40" height="11" fill="#fff" shape-rendering="crispEdges"/>
<rect x="931" y="171" width="1" height="1" fill="#000" shape-rendering="crispEdges"/>
<g transform="translate(937,175) scale(0.899,1)"><text style="fill:#000">4681.05</text><text style="fill:#000">4681.05</text></g>
<g transform="translate(935,443) scale(0.899,1)"><text>45.191</text><text>45.191</text></g>
<g transform="translate(935,497) scale(0.899,1)"><text>0.00</text><text>0.00</text></g>
<g transform="translate(935,532) scale(0.899,1)"><text>-31.35</text><text>-31.35</text></g>
<g>
<defs><linearGradient id="gul" gradientUnits="userSpaceOnUse" x1="880.30" y1="511.20" x2="883.50" y2="514.40"><stop offset="0" stop-color="#8c8c8c"/><stop offset="0.3" stop-color="#f4f4f4"/><stop offset="0.55" stop-color="#a8a8a8"/><stop offset="0.8" stop-color="#e8e8e8"/><stop offset="1" stop-color="#777"/></linearGradient><linearGradient id="gur" gradientUnits="userSpaceOnUse" x1="892.90" y1="511.20" x2="889.70" y2="514.40"><stop offset="0" stop-color="#4a4a4a"/><stop offset="0.45" stop-color="#8a8a8a"/><stop offset="0.6" stop-color="#ffffff"/><stop offset="1" stop-color="#f0f0f0"/></linearGradient><linearGradient id="gll" gradientUnits="userSpaceOnUse" x1="880.30" y1="523.80" x2="883.50" y2="520.60"><stop offset="0" stop-color="#f2da22"/><stop offset="0.5" stop-color="#e0c41e"/><stop offset="0.62" stop-color="#7a5a1c"/><stop offset="1" stop-color="#5c4216"/></linearGradient><linearGradient id="glr" gradientUnits="userSpaceOnUse" x1="892.90" y1="523.80" x2="889.70" y2="520.60"><stop offset="0" stop-color="#6e5416"/><stop offset="0.35" stop-color="#a8861e"/><stop offset="0.6" stop-color="#7a5c18"/><stop offset="0.8" stop-color="#c4a226"/><stop offset="1" stop-color="#6a4c14"/></linearGradient></defs>
<path d="M874.0 517.5L886.6 504.9L886.6 511.3L880.4 517.5z" fill="url(#gul)"/>
<path d="M886.6 504.9L899.2 517.5L892.8000000000001 517.5L886.6 511.3z" fill="url(#gur)"/>
<path d="M874.0 517.5L886.6 530.1L886.6 523.7L880.4 517.5z" fill="url(#gll)"/>
<path d="M886.6 530.1L899.2 517.5L892.8000000000001 517.5L886.6 523.7z" fill="url(#glr)"/>
<path d="M880.4 517.5L886.6 511.3L892.8000000000001 517.5L886.6 523.7z" fill="#000"/>
<path d="M883.5 517.5L886.6 514.4L889.7 517.5L886.6 520.6z" fill="#000" stroke="#86c232" stroke-width="1.4" stroke-linejoin="round"/>
<g transform="translate(905.2,516) scale(0.906,1)"><text font-weight="bold">SiNO SOUND</text><text font-weight="bold">SiNO SOUND</text></g>
<text x="905.2" y="525" style="font-weight:bold;font-size:8.6px">漢</text><text x="905.2" y="525" style="font-weight:bold;font-size:8.6px">漢</text>
<text x="921.7" y="525" style="font-weight:bold;font-size:8.6px">聲</text><text x="921.7" y="525" style="font-weight:bold;font-size:8.6px">聲</text>
<text x="938.1" y="525" style="font-weight:bold;font-size:8.6px">集</text><text x="938.1" y="525" style="font-weight:bold;font-size:8.6px">集</text>
<text x="954.6" y="525" style="font-weight:bold;font-size:8.6px">團</text><text x="954.6" y="525" style="font-weight:bold;font-size:8.6px">團</text>
</g>
</svg></body></html>
